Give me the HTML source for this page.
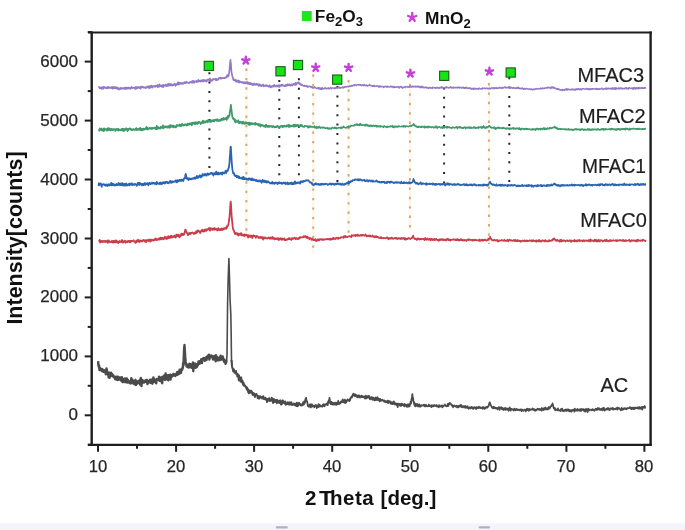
<!DOCTYPE html>
<html><head><meta charset="utf-8"><style>
html,body{margin:0;padding:0;background:#fff;}
body{width:685px;height:530px;position:relative;overflow:hidden;font-family:"Liberation Sans",sans-serif;color:#222;}
svg{position:absolute;left:0;top:0;}
#w{position:absolute;left:0;top:0;width:685px;height:530px;filter:blur(0.45px);}
.yl{position:absolute;left:20px;width:58px;text-align:right;font-size:16px;line-height:18px;transform:scaleX(1.06);transform-origin:right center;color:#262626;-webkit-text-stroke:0.25px #262626;}
.xl{position:absolute;top:457.6px;width:40px;text-align:center;font-size:16px;line-height:18px;transform:scaleX(1.04);color:#262626;-webkit-text-stroke:0.25px #262626;}
.cl{position:absolute;transform-origin:left center;font-size:20px;line-height:22px;color:#1e1e1e;-webkit-text-stroke:0.2px #1e1e1e;}
.leg{position:absolute;top:7px;font-size:16px;transform:scaleX(1.08);transform-origin:left top;font-weight:bold;line-height:20px;color:#111;}
.leg sub{font-size:12px;vertical-align:-4px;line-height:0;}
.xt{position:absolute;left:305px;top:487px;font-size:20.5px;font-weight:bold;line-height:22px;color:#111;white-space:nowrap;}
.yt{position:absolute;left:-84.7px;top:226.5px;width:200px;text-align:center;font-size:21.5px;font-weight:bold;line-height:22px;color:#111;transform:rotate(-90deg);white-space:nowrap;}
</style></head><body><div id="w">
<svg width="685" height="530" viewBox="0 0 685 530"><rect x="0" y="523.2" width="685" height="7" fill="#f5f4fa"/><rect x="275.8" y="526.2" width="12" height="2.2" rx="1" fill="#b0b0c8"/><rect x="478.6" y="526.2" width="11.5" height="2.2" rx="1" fill="#b0b0c8"/><line x1="246.4" y1="66.5" x2="246.4" y2="238" stroke="#fdf6ea" stroke-width="2.6"/><line x1="246.4" y1="68.5" x2="246.4" y2="238" stroke="#d6a56c" stroke-width="1.9" stroke-dasharray="2.4 7.00" stroke-linecap="butt"/><line x1="313.2" y1="72.4" x2="313.2" y2="254" stroke="#fdf6ea" stroke-width="2.6"/><line x1="313.2" y1="74.4" x2="313.2" y2="254" stroke="#d6a56c" stroke-width="1.9" stroke-dasharray="2.4 7.10" stroke-linecap="butt"/><line x1="348.6" y1="78" x2="348.6" y2="234" stroke="#fdf6ea" stroke-width="2.6"/><line x1="348.6" y1="80" x2="348.6" y2="234" stroke="#d6a56c" stroke-width="1.9" stroke-dasharray="2.4 7.00" stroke-linecap="butt"/><line x1="409.9" y1="82" x2="409.9" y2="229" stroke="#fdf6ea" stroke-width="2.6"/><line x1="409.9" y1="84" x2="409.9" y2="229" stroke="#d6a56c" stroke-width="1.9" stroke-dasharray="2.4 7.00" stroke-linecap="butt"/><line x1="488.9" y1="81" x2="488.9" y2="244" stroke="#fdf6ea" stroke-width="2.6"/><line x1="488.9" y1="83" x2="488.9" y2="244" stroke="#d6a56c" stroke-width="1.9" stroke-dasharray="2.4 7.00" stroke-linecap="butt"/><line x1="209.4" y1="72.2" x2="209.4" y2="168" stroke="#2a1f33" stroke-width="2" stroke-dasharray="2 7.38" stroke-linecap="butt"/><line x1="279.3" y1="80.0" x2="279.3" y2="176" stroke="#2a1f33" stroke-width="2" stroke-dasharray="2 7.32" stroke-linecap="butt"/><line x1="298.9" y1="78.3" x2="298.9" y2="176" stroke="#2a1f33" stroke-width="2" stroke-dasharray="2 7.50" stroke-linecap="butt"/><line x1="337.4" y1="86" x2="337.4" y2="183" stroke="#2a1f33" stroke-width="2" stroke-dasharray="2 7.40" stroke-linecap="butt"/><line x1="444.1" y1="87.4" x2="444.1" y2="184" stroke="#2a1f33" stroke-width="2" stroke-dasharray="2 7.40" stroke-linecap="butt"/><line x1="509.3" y1="77.2" x2="509.3" y2="185" stroke="#2a1f33" stroke-width="2" stroke-dasharray="2 7.35" stroke-linecap="butt"/><path d="M98.1 361.15 L98.4 365.06 L98.8 366.85 L99.1 365.38 L99.5 370.05 L99.8 369.52 L100.2 368.15 L100.5 370.14 L100.9 370.00 L101.2 370.09 L101.6 369.87 L101.9 370.90 L102.3 369.06 L102.6 370.18 L103.0 369.87 L103.3 371.81 L103.7 371.12 L104.0 370.79 L104.4 370.21 L104.7 371.26 L105.1 371.88 L105.4 371.64 L105.8 374.35 L106.1 374.10 L106.5 368.35 L106.8 369.87 L107.2 372.82 L107.5 372.63 L107.9 373.85 L108.2 374.06 L108.6 377.30 L108.9 372.34 L109.3 373.72 L109.6 377.80 L110.0 375.77 L110.3 376.00 L110.7 374.32 L111.0 372.71 L111.4 375.82 L111.7 375.93 L112.1 373.99 L112.4 375.07 L112.8 376.25 L113.1 375.06 L113.5 376.61 L113.8 377.13 L114.2 377.24 L114.5 376.57 L114.9 378.54 L115.2 379.22 L115.6 378.51 L115.9 376.79 L116.3 379.38 L116.6 377.51 L117.0 379.82 L117.3 376.80 L117.7 380.09 L118.0 378.69 L118.4 376.83 L118.7 378.43 L119.1 379.13 L119.4 379.58 L119.8 377.68 L120.1 377.58 L120.5 379.78 L120.8 378.81 L121.2 380.04 L121.5 380.98 L121.9 377.24 L122.2 380.38 L122.6 382.04 L122.9 379.71 L123.3 378.99 L123.6 381.60 L124.0 380.90 L124.3 382.04 L124.7 380.15 L125.0 378.43 L125.4 380.68 L125.7 380.20 L126.1 382.21 L126.4 381.33 L126.8 378.47 L127.1 379.22 L127.5 382.60 L127.8 382.33 L128.2 380.28 L128.5 381.35 L128.9 382.12 L129.2 382.22 L129.6 382.92 L129.9 381.99 L130.3 381.48 L130.6 381.27 L131.0 383.43 L131.3 378.20 L131.7 381.63 L132.0 381.96 L132.4 379.68 L132.7 382.55 L133.1 381.03 L133.4 383.51 L133.8 381.98 L134.1 383.31 L134.5 384.24 L134.8 382.89 L135.2 380.86 L135.5 379.82 L135.9 385.03 L136.2 382.02 L136.6 381.08 L136.9 382.39 L137.3 381.84 L137.6 383.49 L138.0 382.16 L138.3 382.11 L138.7 380.93 L139.0 382.80 L139.4 380.38 L139.7 383.08 L140.1 384.43 L140.4 379.54 L140.8 378.01 L141.1 382.93 L141.5 386.00 L141.8 380.30 L142.2 379.88 L142.5 382.81 L142.9 380.50 L143.2 381.02 L143.6 381.25 L143.9 382.64 L144.3 381.14 L144.6 382.22 L145.0 381.49 L145.3 380.42 L145.7 381.25 L146.0 380.24 L146.4 381.76 L146.7 379.95 L147.1 379.99 L147.4 384.06 L147.8 381.64 L148.1 381.63 L148.5 382.53 L148.8 381.04 L149.2 381.34 L149.5 382.38 L149.9 382.14 L150.2 379.77 L150.6 382.87 L150.9 380.51 L151.3 379.68 L151.6 379.84 L152.0 380.57 L152.3 383.71 L152.7 379.14 L153.0 381.19 L153.4 377.42 L153.7 380.75 L154.1 382.11 L154.4 380.20 L154.8 379.49 L155.1 380.78 L155.5 381.44 L155.8 381.30 L156.2 383.30 L156.5 380.40 L156.9 379.03 L157.2 379.68 L157.6 379.68 L157.9 379.89 L158.3 379.58 L158.6 379.82 L159.0 376.78 L159.3 380.69 L159.7 378.36 L160.0 377.31 L160.4 380.12 L160.7 381.12 L161.1 379.72 L161.4 379.10 L161.8 377.26 L162.1 383.26 L162.5 379.99 L162.8 376.67 L163.2 377.15 L163.5 378.45 L163.9 375.74 L164.2 378.41 L164.6 377.32 L164.9 379.93 L165.3 379.41 L165.6 373.45 L166.0 377.77 L166.3 375.02 L166.7 379.30 L167.0 377.70 L167.4 378.22 L167.7 375.55 L168.1 380.09 L168.4 380.31 L168.8 375.29 L169.1 377.50 L169.5 375.74 L169.8 376.69 L170.2 374.61 L170.5 379.53 L170.9 374.90 L171.2 375.89 L171.6 377.08 L171.9 375.15 L172.3 375.71 L172.6 375.10 L173.0 375.70 L173.3 373.94 L173.7 374.97 L174.0 375.19 L174.4 374.84 L174.7 375.31 L175.1 374.59 L175.4 376.11 L175.8 374.23 L176.1 374.37 L176.5 373.37 L176.8 373.43 L177.2 372.08 L177.5 374.77 L177.9 371.94 L178.2 372.40 L178.6 373.99 L178.9 373.87 L179.3 372.39 L179.6 369.59 L180.0 373.27 L180.3 372.77 L180.7 369.72 L181.0 372.78 L181.4 369.94 L181.7 368.70 L182.1 369.96 L182.4 368.63 L182.8 368.00 L183.1 363.19 L183.5 365.51 L183.8 356.30 L184.2 347.06 L184.5 346.49 L184.5 345.00 L184.9 351.53 L185.2 357.03 L185.6 361.39 L185.9 363.91 L186.3 363.56 L186.6 366.59 L187.0 365.20 L187.3 364.83 L187.7 366.51 L188.0 367.19 L188.4 366.15 L188.7 365.14 L189.1 367.50 L189.4 363.66 L189.8 364.77 L190.1 366.43 L190.5 364.12 L190.8 366.27 L191.2 366.15 L191.5 367.70 L191.9 364.82 L192.2 365.30 L192.6 366.85 L192.9 362.40 L193.3 371.31 L193.6 365.24 L194.0 365.20 L194.3 367.76 L194.7 366.32 L195.0 363.55 L195.4 367.40 L195.7 367.78 L196.1 365.69 L196.4 365.97 L196.8 367.05 L197.1 364.30 L197.5 365.94 L197.8 365.04 L198.2 363.13 L198.5 361.46 L198.9 362.81 L199.2 361.26 L199.6 363.74 L199.9 361.85 L200.3 362.44 L200.6 361.20 L201.0 361.19 L201.3 359.31 L201.7 361.42 L202.0 363.00 L202.4 359.44 L202.7 358.78 L203.1 359.26 L203.4 358.53 L203.8 357.97 L204.1 359.11 L204.5 358.21 L204.8 360.77 L205.2 358.25 L205.5 358.56 L205.9 359.36 L206.2 357.27 L206.6 360.01 L206.9 356.67 L207.3 356.35 L207.6 357.02 L208.0 357.39 L208.3 355.30 L208.7 357.45 L209.0 354.80 L209.4 359.66 L209.7 357.27 L210.1 356.34 L210.4 355.88 L210.8 356.68 L211.1 356.90 L211.5 355.55 L211.8 355.72 L212.2 357.00 L212.5 356.61 L212.9 359.08 L213.2 359.54 L213.6 357.88 L213.9 358.76 L214.3 356.00 L214.6 359.30 L215.0 358.37 L215.3 359.33 L215.7 361.25 L216.0 355.18 L216.4 359.39 L216.7 357.35 L217.1 360.20 L217.4 357.29 L217.8 358.66 L218.1 359.65 L218.5 360.18 L218.8 359.19 L219.2 357.68 L219.5 357.93 L219.9 360.11 L220.2 358.56 L220.6 355.75 L220.9 359.66 L221.3 358.85 L221.6 359.46 L222.0 357.40 L222.3 359.13 L222.7 356.53 L223.0 359.64 L223.4 358.45 L223.7 360.82 L224.1 361.86 L224.4 359.58 L224.8 361.19 L225.1 361.84 L225.5 363.89 L225.8 363.13 L226.2 360.04" fill="none" stroke="#4b4b4b" stroke-width="2.4" stroke-linejoin="round"/><path d="M225.8 363.13 L226.2 360.04 L226.5 362.72 L226.6 361.50 L227.0 355.00 L227.3 330.00 L227.6 303.00 L228.2 278.00 L228.9 258.50 L229.5 278.00 L230.1 300.00 L230.8 314.00 L231.2 335.00 L231.5 360.00 L232.0 366.00" fill="none" stroke="#4b4b4b" stroke-width="1.6" stroke-linejoin="round"/><path d="M231.5 360.00 L232.0 366.00 L232.1 366.67 L232.5 368.27 L232.8 368.90 L233.2 371.27 L233.5 370.91 L233.9 369.37 L234.2 372.04 L234.6 372.66 L234.9 371.81 L235.3 372.09 L235.6 372.67 L236.0 370.91 L236.3 374.23 L236.7 374.78 L237.0 373.64 L237.4 376.52 L237.7 373.87 L238.1 375.58 L238.4 376.18 L238.8 380.30 L239.1 375.52 L239.5 379.18 L239.8 380.20 L240.2 379.84 L240.5 381.47 L240.9 378.77 L241.2 377.39 L241.6 382.26 L241.9 379.90 L242.3 381.62 L242.6 380.86 L243.0 384.52 L243.3 384.71 L243.7 382.92 L244.0 385.69 L244.4 385.05 L244.7 385.15 L245.1 385.89 L245.4 385.99 L245.8 387.60 L246.1 387.64 L246.5 387.18 L246.8 389.53 L247.2 387.75 L247.5 389.46 L247.9 390.11 L248.2 392.03 L248.6 389.77 L248.9 393.31 L249.3 391.63 L249.6 391.31 L250.0 390.83 L250.3 392.72 L250.7 392.17 L251.0 390.79 L251.4 390.94 L251.7 391.89 L252.1 391.90 L252.4 394.43 L252.8 394.99 L253.1 394.49 L253.5 393.98 L253.8 393.12 L254.2 393.94 L254.5 395.20 L254.9 397.00 L255.2 395.58 L255.6 394.20 L255.9 394.79 L256.3 394.30 L256.6 394.09 L257.0 395.04 L257.3 395.70 L257.7 397.98 L258.0 395.87 L258.4 397.71 L258.7 398.40 L259.1 396.43 L259.4 398.54 L259.8 397.58 L260.1 396.34 L260.5 397.37 L260.8 397.24 L261.2 397.10 L261.5 397.32 L261.9 397.92 L262.2 398.39 L262.6 396.85 L262.9 398.01 L263.3 396.25 L263.6 398.51 L264.0 399.03 L264.3 398.56 L264.7 398.79 L265.0 399.24 L265.4 397.81 L265.7 398.41 L266.1 399.39 L266.4 400.06 L266.8 399.42 L267.1 402.05 L267.5 399.01 L267.8 400.38 L268.2 400.77 L268.5 399.21 L268.9 398.50 L269.2 398.16 L269.6 399.81 L269.9 400.99 L270.3 400.10 L270.6 400.07 L271.0 399.53 L271.3 400.68 L271.7 397.70 L272.0 400.48 L272.4 400.33 L272.7 398.84 L273.1 402.91 L273.4 399.00 L273.8 399.43 L274.1 399.38 L274.5 402.03 L274.8 399.90 L275.2 401.71 L275.5 401.70 L275.9 401.42 L276.2 399.80 L276.6 400.64 L276.9 403.20 L277.3 400.08 L277.6 400.66 L278.0 401.47 L278.3 402.58 L278.7 402.04 L279.0 402.61 L279.4 400.75 L279.7 402.93 L280.1 402.58 L280.4 400.37 L280.8 403.70 L281.1 404.54 L281.5 401.41 L281.8 402.32 L282.2 403.75 L282.5 400.85 L282.9 400.39 L283.2 401.15 L283.6 401.95 L283.9 402.00 L284.3 403.25 L284.6 402.96 L285.0 401.50 L285.3 403.37 L285.7 404.72 L286.0 404.10 L286.4 403.94 L286.7 403.04 L287.1 404.04 L287.4 402.18 L287.8 403.91 L288.1 403.15 L288.5 404.38 L288.8 403.79 L289.2 402.35 L289.5 403.57 L289.9 404.67 L290.2 402.49 L290.6 403.09 L290.9 402.94 L291.3 402.32 L291.6 404.67 L292.0 405.05 L292.3 404.62 L292.7 404.16 L293.0 403.94 L293.4 404.26 L293.7 403.43 L294.1 404.96 L294.4 405.13 L294.8 405.06 L295.1 403.77 L295.5 404.35 L295.8 404.17 L296.2 405.94 L296.5 404.54 L296.9 402.75 L297.2 404.79 L297.6 406.12 L297.9 405.10 L298.3 405.29 L298.6 404.59 L299.0 402.89 L299.3 403.06 L299.7 403.57 L300.0 404.55" fill="none" stroke="#4b4b4b" stroke-width="2.0" stroke-linejoin="round"/><path d="M299.7 403.57 L300.0 404.55 L300.4 404.94 L300.7 405.28 L301.1 404.41 L301.4 405.53 L301.8 404.48 L302.1 404.11 L302.5 405.41 L302.8 403.88 L303.2 402.27 L303.5 403.59 L303.9 404.42 L304.2 401.47 L304.6 403.37 L304.9 402.69 L305.3 400.58 L305.6 398.75 L306.0 398.08 L306.1 397.91 L306.3 400.09 L306.7 401.27 L307.0 401.22 L307.4 402.85 L307.7 404.80 L308.1 406.22 L308.4 405.21 L308.8 405.34 L309.1 406.81 L309.5 405.32 L309.8 405.18 L310.2 404.32 L310.5 405.13 L310.9 407.45 L311.2 404.41 L311.6 405.65 L311.9 404.46 L312.3 405.78 L312.6 406.44 L313.0 405.48 L313.3 406.32 L313.7 406.32 L314.0 406.09 L314.4 407.18 L314.7 406.38 L315.1 405.47 L315.4 405.15 L315.8 405.01 L316.1 406.14 L316.5 405.46 L316.8 408.06 L317.2 407.31 L317.5 405.56 L317.9 405.46 L318.2 407.18 L318.6 404.14 L318.9 405.36 L319.3 406.55 L319.6 404.96 L320.0 405.33 L320.3 405.44 L320.7 406.30 L321.0 405.85 L321.4 406.07 L321.7 406.23 L322.1 405.75 L322.4 406.66 L322.8 405.09 L323.1 404.46 L323.5 404.10 L323.8 404.16 L324.2 405.00 L324.5 406.27 L324.9 405.47 L325.2 404.73 L325.6 404.24 L325.9 404.61 L326.3 404.60 L326.6 404.34 L327.0 403.44 L327.3 404.05 L327.7 405.05 L328.0 401.94 L328.4 402.96 L328.7 400.37 L329.1 400.93 L329.4 399.11 L329.5 397.94 L329.8 400.37 L330.1 403.14 L330.5 402.69 L330.8 404.18 L331.2 403.47 L331.5 401.88 L331.9 404.23 L332.2 403.51 L332.6 402.65 L332.9 404.56 L333.3 404.12 L333.6 403.40 L334.0 404.56 L334.3 403.04 L334.7 404.29 L335.0 402.90 L335.4 404.10 L335.7 402.67 L336.1 404.82 L336.4 403.72 L336.8 404.67 L337.1 402.70 L337.5 402.94 L337.8 404.00 L338.2 400.90 L338.5 402.27 L338.9 404.00 L339.2 403.46 L339.6 403.84 L339.9 402.69 L340.3 403.38 L340.6 402.22 L341.0 401.62 L341.3 401.29 L341.7 402.20 L342.0 402.15 L342.4 402.02 L342.7 399.40 L343.1 400.57 L343.4 401.68 L343.8 402.24 L344.1 401.36 L344.5 400.96 L344.8 399.60 L345.2 403.14 L345.5 400.34 L345.9 402.57 L346.2 402.32 L346.6 401.08 L346.9 400.21 L347.3 400.67 L347.6 399.42 L348.0 400.48 L348.3 400.10 L348.7 400.39 L349.0 400.59 L349.4 401.08 L349.7 399.10 L350.1 400.13 L350.4 398.32 L350.8 397.76 L351.1 397.47 L351.5 396.57 L351.8 397.52 L352.2 396.64 L352.5 396.12 L352.8 394.62 L352.9 394.79 L353.2 394.04 L353.6 393.67 L353.9 395.46 L354.3 395.61 L354.6 394.66 L355.0 396.26 L355.3 394.40 L355.7 395.83 L356.0 395.52 L356.4 395.68 L356.7 395.27 L357.1 397.06 L357.4 396.78 L357.8 397.36 L358.1 396.51 L358.5 395.34 L358.8 396.17 L359.2 395.52 L359.5 396.96 L359.9 397.64 L360.2 396.93 L360.6 396.18 L360.9 396.41 L361.3 396.94 L361.6 395.58 L362.0 396.97 L362.3 397.05 L362.7 396.46 L363.0 396.61 L363.4 397.14 L363.7 396.34 L364.1 396.38 L364.4 397.77 L364.8 397.34 L365.1 398.63 L365.5 396.42 L365.8 395.81 L366.2 398.18 L366.5 398.26 L366.9 396.88 L367.2 396.32 L367.6 397.58 L367.9 396.20 L368.3 397.45 L368.6 395.95 L369.0 397.66 L369.3 396.12 L369.7 397.78 L370.0 399.33 L370.4 397.87 L370.7 398.82 L371.1 397.67 L371.4 397.52 L371.8 397.07 L372.1 399.28 L372.5 398.41 L372.8 399.90 L373.2 397.58 L373.5 398.45 L373.9 398.76 L374.2 399.96 L374.6 400.36 L374.9 398.32 L375.3 397.97 L375.6 397.52 L376.0 400.19 L376.3 399.04 L376.7 398.62 L377.0 399.19 L377.4 397.12 L377.7 397.89 L378.1 400.24 L378.4 399.87 L378.8 399.74 L379.1 398.85 L379.5 400.29 L379.8 401.39 L380.2 398.92 L380.5 400.06 L380.9 399.77 L381.2 400.53 L381.6 400.32 L381.9 400.27 L382.3 399.73 L382.6 400.55 L383.0 400.13 L383.3 400.62 L383.7 400.77 L384.0 401.47 L384.4 400.51 L384.7 400.81 L385.1 402.09 L385.4 401.08 L385.8 401.13 L386.1 402.17 L386.5 401.75 L386.8 401.69 L387.2 401.88 L387.5 400.73 L387.9 402.26 L388.2 403.08 L388.6 402.54 L388.9 400.81 L389.3 402.46 L389.6 401.54 L390.0 402.20 L390.3 402.59 L390.7 401.55 L391.0 403.77 L391.4 402.65 L391.7 403.45 L392.1 403.39 L392.4 404.06 L392.8 404.00 L393.1 401.81 L393.5 403.17 L393.8 401.39 L394.2 402.89 L394.5 403.95 L394.9 404.19 L395.2 404.58 L395.6 403.24 L395.9 403.90 L396.3 403.78 L396.6 404.85 L397.0 405.19 L397.3 403.60 L397.7 407.20 L398.0 404.05 L398.4 403.81 L398.7 404.70 L399.1 404.90 L399.4 404.79 L399.8 403.84 L400.1 405.72 L400.5 404.58 L400.8 405.91 L401.2 405.86 L401.5 403.66 L401.9 403.98 L402.2 404.03 L402.6 405.16 L402.9 405.06 L403.3 405.30 L403.6 404.41 L404.0 405.47 L404.3 406.30 L404.7 403.97 L405.0 404.94 L405.4 405.32 L405.7 404.99 L406.1 404.93 L406.4 406.59 L406.8 406.17 L407.1 405.78 L407.5 404.39 L407.8 406.91 L408.2 405.27 L408.5 404.42 L408.9 404.55 L409.2 404.31 L409.6 406.39 L409.9 404.55 L410.3 404.12 L410.6 401.76 L411.0 403.46 L411.3 400.67 L411.7 398.53 L412.0 397.16 L412.4 394.23 L412.4 395.67 L412.7 397.61 L413.1 398.02 L413.4 401.52 L413.8 401.58 L414.1 403.65 L414.5 404.97 L414.8 403.37 L415.2 406.29 L415.5 404.66 L415.9 404.04 L416.2 405.04 L416.6 405.90 L416.9 404.12 L417.3 405.34 L417.6 404.22 L418.0 406.45 L418.3 405.59 L418.7 405.13 L419.0 406.40 L419.4 404.45 L419.7 405.23 L420.1 406.79" fill="none" stroke="#4b4b4b" stroke-width="1.85" stroke-linejoin="round"/><path d="M419.7 405.23 L420.1 406.79 L420.4 405.53 L420.8 406.51 L421.1 405.77 L421.5 405.21 L421.8 405.52 L422.2 405.74 L422.5 405.44 L422.9 405.19 L423.2 405.22 L423.6 404.77 L423.9 405.81 L424.3 406.01 L424.6 406.24 L425.0 404.59 L425.3 406.29 L425.7 405.76 L426.0 404.85 L426.4 405.85 L426.7 406.32 L427.1 406.14 L427.4 406.27 L427.8 406.42 L428.1 406.39 L428.5 405.79 L428.8 404.47 L429.2 405.33 L429.5 406.06 L429.9 405.53 L430.2 406.29 L430.6 406.37 L430.9 405.88 L431.3 407.08 L431.6 405.23 L432.0 406.47 L432.3 405.56 L432.7 405.37 L433.0 406.26 L433.4 405.48 L433.7 406.44 L434.1 405.13 L434.4 405.92 L434.8 405.35 L435.1 405.75 L435.5 405.66 L435.8 405.18 L436.2 406.34 L436.5 405.11 L436.9 405.28 L437.2 406.50 L437.6 406.56 L437.9 406.37 L438.3 406.16 L438.6 407.42 L439.0 405.15 L439.3 405.46 L439.7 405.30 L440.0 406.53 L440.4 406.13 L440.7 406.67 L441.1 406.57 L441.4 405.79 L441.8 405.40 L442.1 405.29 L442.5 407.37 L442.8 406.55 L443.2 406.30 L443.5 405.69 L443.9 405.77 L444.2 405.67 L444.6 405.67 L444.9 404.31 L445.3 405.81 L445.6 405.58 L446.0 405.99 L446.3 405.90 L446.7 406.27 L447.0 405.64 L447.4 406.07 L447.7 403.75 L448.1 404.49 L448.4 406.03 L448.8 403.66 L449.1 403.72 L449.5 403.96 L449.6 402.91 L449.8 404.10 L450.2 403.21 L450.5 403.42 L450.9 404.19 L451.2 404.23 L451.6 405.47 L451.9 405.39 L452.3 405.89 L452.6 405.06 L453.0 407.43 L453.3 405.75 L453.7 405.81 L454.0 406.16 L454.4 405.72 L454.7 405.48 L455.1 405.97 L455.4 406.56 L455.8 406.44 L456.1 406.66 L456.5 405.73 L456.8 405.64 L457.2 407.49 L457.5 406.07 L457.9 406.58 L458.2 406.79 L458.6 407.28 L458.9 405.52 L459.3 406.12 L459.6 406.19 L460.0 406.32 L460.3 404.99 L460.7 406.54 L461.0 404.76 L461.4 406.87 L461.7 407.07 L462.1 407.15 L462.4 406.02 L462.8 407.46 L463.1 406.32 L463.5 406.12 L463.8 406.32 L464.2 406.45 L464.5 407.15 L464.9 407.61 L465.2 405.75 L465.6 406.80 L465.9 407.78 L466.3 407.37 L466.6 407.61 L467.0 406.34 L467.3 407.97 L467.7 406.38 L468.0 407.56 L468.4 408.36 L468.7 408.74 L469.1 407.89 L469.4 408.16 L469.8 407.24 L470.1 407.36 L470.5 408.47 L470.8 407.75 L471.2 407.70 L471.5 406.91 L471.9 407.96 L472.2 408.29 L472.6 407.35 L472.9 407.53 L473.3 408.89 L473.6 407.97 L474.0 407.66 L474.3 407.11 L474.7 407.44 L475.0 407.67 L475.4 408.72 L475.7 407.43 L476.1 408.99 L476.4 407.21 L476.8 407.58 L477.1 408.35 L477.5 407.64 L477.8 407.26 L478.2 407.70 L478.5 408.07 L478.9 406.66 L479.2 407.61 L479.6 407.69 L479.9 407.49 L480.3 408.23 L480.6 407.37 L481.0 407.50 L481.3 407.75 L481.7 408.19 L482.0 407.56 L482.4 408.68 L482.7 407.09 L483.1 408.51 L483.4 407.10 L483.8 407.53 L484.1 407.86 L484.5 408.93 L484.8 408.15 L485.2 407.28 L485.5 408.35 L485.9 407.32 L486.2 406.89 L486.6 407.62 L486.9 407.29 L487.3 407.71 L487.6 406.54 L488.0 406.86 L488.3 406.59 L488.7 405.68 L489.0 404.44 L489.4 402.65 L489.7 402.80 L489.8 402.28 L490.1 403.07 L490.4 403.88 L490.8 405.30 L491.1 405.42 L491.5 406.66 L491.8 407.45 L492.2 407.25 L492.5 407.92 L492.9 407.70 L493.2 408.48 L493.6 407.56 L493.9 406.69 L494.3 408.10 L494.6 407.77 L495.0 407.29 L495.3 408.40 L495.7 408.19 L496.0 408.35 L496.4 407.88 L496.7 408.26 L497.1 408.34 L497.4 409.36 L497.8 407.79 L498.1 408.27 L498.5 408.54 L498.8 407.22 L499.2 407.33 L499.5 409.81 L499.9 407.28 L500.2 408.83 L500.6 407.94 L500.9 408.03 L501.3 407.26 L501.6 407.99 L502.0 409.12 L502.3 407.74 L502.7 409.06 L503.0 408.90 L503.4 410.04 L503.7 408.45 L504.1 409.60 L504.4 409.39 L504.8 408.65 L505.1 407.79 L505.5 409.88 L505.8 408.04 L506.2 408.65 L506.5 409.56 L506.9 409.74 L507.2 408.49 L507.6 409.05 L507.9 408.93 L508.3 409.89 L508.6 410.78 L509.0 407.99 L509.3 409.80 L509.7 407.38 L510.0 409.27 L510.4 408.57 L510.7 410.61 L511.1 409.45 L511.4 408.90 L511.8 409.08 L512.1 409.06 L512.5 409.58 L512.8 409.38 L513.2 409.94 L513.5 410.54 L513.9 410.02 L514.2 408.80 L514.6 408.57 L514.9 409.16 L515.3 410.36 L515.6 409.49 L516.0 409.30 L516.3 409.85 L516.7 408.87 L517.0 409.08 L517.4 410.18 L517.7 409.68 L518.1 409.60 L518.4 410.13 L518.8 409.57 L519.1 409.54 L519.5 409.71 L519.8 410.43 L520.2 410.10 L520.5 409.29 L520.9 409.85 L521.2 410.45 L521.6 411.23 L521.9 409.26 L522.3 410.21 L522.6 409.81 L523.0 410.50 L523.3 410.24 L523.7 410.89 L524.0 410.25 L524.4 409.55 L524.7 409.54 L525.1 410.14 L525.4 410.11 L525.8 411.40 L526.1 410.92 L526.5 409.05 L526.8 410.03 L527.2 408.92 L527.5 408.69 L527.9 410.24 L528.2 410.10 L528.6 409.05 L528.9 410.78 L529.3 409.06 L529.6 408.92 L530.0 410.09 L530.3 409.79 L530.7 409.53 L531.0 409.57 L531.4 409.75 L531.7 409.49 L532.1 409.46 L532.4 408.32 L532.8 408.66 L533.1 409.92 L533.5 409.05 L533.8 409.84 L534.2 410.27 L534.5 409.22 L534.9 409.62 L535.2 410.77 L535.6 409.85 L535.9 410.58 L536.3 410.36 L536.6 409.84 L537.0 409.26 L537.3 408.76 L537.7 408.57 L538.0 409.59 L538.4 409.56 L538.7 409.12 L539.1 409.76 L539.4 408.80 L539.8 409.89 L540.1 409.17 L540.5 409.10 L540.8 409.10 L541.2 409.01 L541.5 410.66 L541.9 407.97 L542.2 409.10 L542.6 409.77 L542.9 409.41 L543.3 408.76 L543.6 410.09 L544.0 408.27 L544.3 408.12 L544.7 409.34 L545.0 408.01 L545.4 407.40 L545.7 409.50 L546.1 409.40 L546.4 409.34 L546.8 408.50 L547.1 408.87 L547.5 408.05 L547.8 409.70 L548.2 408.96 L548.5 408.78 L548.9 406.84 L549.2 408.41 L549.6 408.59 L549.9 408.10 L550.3 407.48 L550.6 406.60 L551.0 405.99 L551.3 406.18 L551.5 405.83 L551.7 405.42 L552.0 404.42 L552.4 405.17 L552.6 403.31 L552.7 404.28 L553.1 404.95 L553.4 407.12 L553.8 408.24 L554.1 408.74 L554.5 408.87 L554.8 407.82 L555.2 410.36 L555.5 409.56 L555.9 409.34 L556.2 409.58 L556.6 409.47 L556.9 410.09 L557.3 410.10 L557.6 409.72 L558.0 408.33 L558.3 410.02 L558.7 410.39 L559.0 410.45 L559.4 410.03 L559.7 410.45 L560.1 410.84 L560.4 409.88 L560.8 411.15 L561.1 408.94 L561.5 409.40 L561.8 409.64 L562.2 408.65 L562.5 409.60 L562.9 411.06 L563.2 411.06 L563.6 410.32 L563.9 411.38 L564.3 410.42 L564.6 409.94 L565.0 410.42 L565.3 410.18 L565.7 410.75 L566.0 409.29 L566.4 410.92 L566.7 409.97 L567.1 410.82 L567.4 409.26 L567.8 409.99 L568.1 410.31 L568.5 410.84 L568.8 409.46 L569.2 411.34 L569.5 410.57 L569.9 409.91 L570.2 411.04 L570.6 410.31 L570.9 410.99 L571.3 411.75 L571.6 410.73 L572.0 409.89 L572.3 409.95 L572.7 410.60 L573.0 410.41 L573.4 409.67 L573.7 409.78 L574.1 410.64 L574.4 411.73 L574.8 408.49 L575.1 410.67 L575.5 410.06 L575.8 410.70 L576.2 410.75 L576.5 410.22 L576.9 409.52 L577.2 409.26 L577.6 408.95 L577.9 410.96 L578.3 410.02 L578.6 409.80 L579.0 409.97 L579.3 409.28 L579.7 410.34 L580.0 410.99 L580.4 410.87 L580.7 409.11 L581.1 411.01 L581.4 409.62 L581.8 408.87 L582.1 409.31 L582.5 409.48 L582.8 410.10 L583.2 409.43 L583.5 409.11 L583.9 409.92 L584.2 411.33 L584.6 409.62 L584.9 410.36 L585.3 410.10 L585.6 411.76 L586.0 408.79 L586.3 410.72 L586.7 409.16 L587.0 409.59 L587.4 409.90 L587.7 412.02 L588.1 409.44 L588.4 408.69 L588.8 410.75 L589.1 409.35 L589.5 409.72 L589.8 409.85 L590.2 409.91 L590.5 409.73 L590.9 410.00 L591.2 410.06 L591.6 410.35 L591.9 409.50 L592.3 409.28 L592.6 409.06 L593.0 410.12 L593.3 409.69 L593.7 410.07 L594.0 410.05 L594.4 410.78 L594.7 409.80 L595.1 410.14 L595.4 408.86 L595.8 408.92 L596.1 409.41 L596.5 408.81 L596.8 410.03 L597.2 408.70 L597.5 409.60 L597.9 407.94 L598.2 408.81 L598.6 409.29 L598.9 409.33 L599.3 408.32 L599.6 409.54 L600.0 410.09 L600.3 409.86 L600.7 409.00 L601.0 409.03 L601.4 408.63 L601.7 409.79 L602.1 410.31 L602.4 409.01 L602.8 408.24 L603.1 409.46 L603.5 409.77 L603.8 407.53 L604.2 409.37 L604.5 410.68 L604.9 409.79 L605.2 409.60 L605.6 409.49 L605.9 409.90 L606.3 408.59 L606.6 408.63 L607.0 409.43 L607.3 408.71 L607.7 409.31 L608.0 407.88 L608.4 409.61 L608.7 409.65 L609.1 409.11 L609.4 409.18 L609.8 410.11 L610.1 408.34 L610.5 408.43 L610.8 408.30 L611.2 408.72 L611.5 408.33 L611.9 408.99 L612.2 408.53 L612.6 408.00 L612.9 407.92 L613.3 409.70 L613.6 408.85 L614.0 408.74 L614.3 408.89 L614.7 408.80 L615.0 409.33 L615.4 409.19 L615.7 408.43 L616.1 408.26 L616.4 408.08 L616.8 407.96 L617.1 409.67 L617.5 408.15 L617.8 407.42 L618.2 408.17 L618.5 408.19 L618.9 408.90 L619.2 408.09 L619.6 409.00 L619.9 408.89 L620.3 409.45 L620.6 410.02 L621.0 410.45 L621.3 409.46 L621.7 407.82 L622.0 408.29 L622.4 408.70 L622.7 409.87 L623.1 408.95 L623.4 409.28 L623.8 408.37 L624.1 408.85 L624.5 408.92 L624.8 408.15 L625.2 408.93 L625.5 409.11 L625.9 408.30 L626.2 409.05 L626.6 409.44 L626.9 408.40 L627.3 408.34 L627.6 408.13 L628.0 407.91 L628.3 408.40 L628.7 408.02 L629.0 408.07 L629.4 407.75 L629.7 407.24 L630.1 407.62 L630.4 408.43 L630.8 407.43 L631.1 407.76 L631.5 409.24 L631.8 408.89 L632.2 407.69 L632.5 408.52 L632.9 407.69 L633.2 409.16 L633.6 407.70 L633.9 408.12 L634.3 408.96 L634.6 407.50 L635.0 408.87 L635.3 407.48 L635.7 408.15 L636.0 407.79 L636.4 407.91 L636.7 408.06 L637.1 407.89 L637.4 407.27 L637.8 408.48 L638.1 408.37 L638.5 408.72 L638.8 408.77 L639.2 406.98 L639.5 408.68 L639.9 408.67 L640.2 407.47 L640.6 408.47 L640.9 408.74 L641.3 407.42 L641.6 406.86 L642.0 407.51 L642.3 409.54 L642.7 407.87 L643.0 406.91 L643.4 407.52 L643.7 407.02 L644.1 407.39 L644.4 407.70 L644.8 405.96 L645.1 407.85 L645.5 408.52" fill="none" stroke="#4b4b4b" stroke-width="1.7" stroke-linejoin="round"/><path d="M98.7 241.52 L99.0 241.06 L99.4 241.13 L99.7 239.82 L100.1 242.58 L100.4 242.15 L100.8 241.20 L101.1 241.92 L101.5 241.60 L101.8 241.06 L102.2 242.06 L102.5 241.22 L102.9 241.21 L103.2 240.91 L103.6 241.73 L103.9 241.37 L104.3 241.79 L104.6 241.04 L105.0 241.52 L105.3 240.86 L105.7 241.99 L106.0 241.57 L106.4 241.67 L106.7 241.72 L107.1 240.80 L107.4 241.97 L107.8 242.80 L108.1 240.40 L108.5 240.34 L108.8 240.49 L109.2 242.02 L109.5 241.56 L109.9 242.18 L110.2 241.95 L110.6 241.62 L110.9 241.67 L111.3 241.38 L111.6 242.05 L112.0 240.76 L112.3 241.22 L112.7 241.65 L113.0 242.67 L113.4 241.00 L113.7 240.80 L114.1 241.14 L114.4 242.14 L114.8 241.36 L115.1 242.37 L115.5 240.30 L115.8 242.25 L116.2 242.19 L116.5 240.60 L116.9 241.62 L117.2 242.32 L117.6 241.59 L117.9 242.18 L118.3 243.08 L118.6 241.71 L119.0 241.36 L119.3 241.04 L119.7 241.97 L120.0 241.42 L120.4 241.43 L120.7 241.48 L121.1 241.98 L121.4 240.86 L121.8 240.56 L122.1 239.98 L122.5 242.34 L122.8 241.61 L123.2 242.55 L123.5 241.56 L123.9 241.09 L124.2 241.89 L124.6 241.53 L124.9 240.77 L125.3 241.01 L125.6 242.73 L126.0 241.82 L126.3 241.86 L126.7 241.41 L127.0 241.15 L127.4 242.17 L127.7 241.50 L128.1 241.06 L128.4 241.45 L128.8 240.93 L129.1 241.62 L129.5 242.22 L129.8 240.92 L130.2 242.38 L130.5 241.00 L130.9 241.52 L131.2 240.86 L131.6 241.24 L131.9 241.40 L132.3 241.07 L132.6 240.87 L133.0 240.87 L133.3 240.76 L133.7 240.26 L134.0 241.09 L134.4 241.51 L134.7 241.82 L135.1 241.63 L135.4 242.79 L135.8 241.39 L136.1 240.87 L136.5 242.36 L136.8 240.45 L137.2 241.74 L137.5 240.47 L137.9 241.31 L138.2 239.78 L138.6 241.63 L138.9 240.92 L139.3 240.38 L139.6 242.08 L140.0 241.47 L140.3 240.99 L140.7 240.46 L141.0 240.90 L141.4 240.80 L141.7 241.36 L142.1 241.39 L142.4 240.42 L142.8 240.48 L143.1 240.48 L143.5 239.93 L143.8 240.40 L144.2 240.71 L144.5 241.20 L144.9 241.60 L145.2 240.19 L145.6 241.06 L145.9 240.40 L146.3 242.02 L146.6 240.62 L147.0 240.96 L147.3 240.01 L147.7 240.07 L148.0 240.72 L148.4 240.32 L148.7 240.78 L149.1 239.52 L149.4 240.95 L149.8 239.91 L150.1 241.60 L150.5 240.28 L150.8 241.16 L151.2 239.52 L151.5 240.69 L151.9 239.82 L152.2 240.03 L152.6 240.30 L152.9 240.01 L153.3 240.33 L153.6 240.58 L154.0 240.45 L154.3 239.91 L154.7 239.02 L155.0 239.32 L155.4 239.65 L155.7 238.33 L156.1 240.14 L156.4 239.43 L156.8 239.36 L157.1 240.08 L157.5 239.83 L157.8 239.48 L158.2 238.62 L158.5 239.41 L158.9 239.37 L159.2 238.50 L159.6 239.69 L159.9 239.28 L160.3 237.61 L160.6 238.90 L161.0 237.94 L161.3 239.44 L161.7 239.16 L162.0 237.85 L162.4 237.93 L162.7 238.51 L163.1 238.23 L163.4 239.31 L163.8 238.74 L164.1 238.01 L164.5 238.50 L164.8 236.74 L165.2 238.20 L165.5 238.50 L165.9 237.76 L166.2 237.35 L166.6 238.11 L166.9 238.96 L167.3 237.75 L167.6 236.83 L168.0 238.43 L168.3 236.21 L168.7 237.69 L169.0 236.92 L169.4 237.84 L169.7 236.62 L170.1 237.97 L170.4 237.24 L170.8 235.86 L171.1 235.63 L171.5 236.65 L171.8 237.63 L172.2 236.81 L172.5 236.70 L172.9 236.44 L173.2 237.01 L173.6 236.71 L173.9 236.59 L174.3 235.70 L174.6 237.05 L175.0 237.10 L175.3 235.30 L175.7 237.58 L176.0 236.48 L176.4 235.63 L176.7 234.65 L177.1 236.25 L177.4 236.14 L177.8 235.34 L178.1 234.51 L178.5 236.35 L178.8 235.18 L179.2 235.21 L179.5 237.31 L179.9 236.78 L180.2 235.96 L180.6 234.99 L180.9 235.64 L181.3 233.67 L181.6 235.15 L182.0 234.51 L182.3 234.08 L182.7 233.79 L183.0 235.03 L183.4 234.59 L183.7 234.42 L184.1 234.55 L184.4 232.95 L184.8 231.83 L185.1 230.06 L185.5 229.59 L185.6 230.18 L185.8 230.12 L186.2 232.14 L186.5 232.03 L186.9 233.08 L187.2 233.20 L187.6 233.06 L187.9 235.17 L188.3 234.56 L188.6 233.52 L189.0 233.52 L189.3 233.96 L189.7 233.00 L190.0 234.15 L190.4 232.96 L190.7 233.48 L191.1 232.98 L191.4 233.25 L191.8 232.62 L192.1 232.38 L192.5 232.69 L192.8 232.79 L193.2 232.96 L193.5 233.11 L193.9 233.97 L194.2 233.42 L194.6 232.64 L194.9 233.19 L195.3 232.18 L195.6 233.49 L196.0 232.81 L196.3 231.49 L196.7 232.77 L197.0 232.72 L197.4 230.36 L197.7 231.53 L198.1 231.62 L198.4 230.59 L198.8 231.06 L199.1 231.05 L199.5 231.91 L199.8 231.68 L200.2 233.11 L200.5 231.05 L200.9 231.97 L201.2 231.18 L201.6 231.22 L201.9 230.20 L202.3 229.62 L202.6 230.28 L203.0 231.18 L203.3 231.63 L203.7 230.90 L204.0 230.74 L204.4 229.78 L204.7 231.24 L205.1 231.02 L205.4 229.72 L205.8 229.94 L206.1 229.23 L206.5 230.74 L206.8 229.97 L207.2 229.55 L207.5 229.79 L207.9 229.72 L208.2 229.07 L208.6 228.44 L208.9 228.32 L209.3 227.99 L209.6 229.43 L210.0 230.58 L210.3 228.04 L210.7 229.24 L211.0 229.43 L211.4 228.53 L211.7 229.31 L212.1 228.47 L212.4 229.97 L212.8 228.81 L213.1 229.26 L213.5 229.65 L213.8 228.93 L214.2 228.05 L214.5 228.87 L214.9 229.72 L215.2 229.17 L215.6 229.38 L215.9 228.53 L216.3 229.33 L216.6 229.71 L217.0 229.26 L217.3 230.48 L217.7 229.10 L218.0 228.56 L218.4 228.18 L218.7 229.98 L219.1 229.19 L219.4 229.88 L219.8 229.51 L220.1 230.26 L220.5 230.02 L220.8 228.93 L221.2 229.34 L221.5 229.85 L221.9 228.32 L222.2 230.04 L222.6 229.85 L222.9 229.66 L223.3 228.85 L223.6 229.12 L224.0 228.14 L224.3 228.83 L224.7 228.32 L225.0 228.65 L225.4 228.15 L225.7 228.50 L226.1 228.88 L226.4 227.03 L226.8 228.20 L227.1 225.94 L227.5 225.35 L227.8 226.02 L228.2 225.20 L228.5 224.22 L228.9 221.03 L229.2 219.55 L229.6 216.03 L229.9 211.73 L230.3 205.29 L230.6 202.64 L230.7 201.64 L231.0 204.38 L231.3 209.98 L231.7 216.60 L232.0 220.07 L232.4 223.45 L232.7 226.70 L233.1 229.20 L233.4 229.60 L233.8 230.57 L234.1 230.99 L234.5 232.62 L234.8 232.88 L235.2 234.19 L235.5 233.53 L235.9 232.90 L236.2 233.32 L236.6 233.21 L236.9 233.17 L237.3 234.92 L237.6 234.73 L238.0 233.50 L238.3 235.55 L238.7 234.63 L239.0 233.92 L239.4 234.86 L239.7 234.63 L240.1 234.24 L240.4 233.53 L240.8 234.88 L241.1 235.10 L241.5 233.28 L241.8 235.37 L242.2 235.46 L242.5 234.79 L242.9 235.22 L243.2 235.01 L243.6 234.69 L243.9 235.04 L244.3 236.19 L244.6 234.41 L245.0 235.55 L245.3 235.55 L245.7 235.01 L246.0 235.22 L246.4 234.64 L246.7 235.03 L247.1 235.63 L247.4 235.87 L247.8 235.11 L248.1 237.71 L248.5 235.39 L248.8 235.88 L249.2 235.71 L249.5 235.66 L249.9 236.82 L250.2 235.72 L250.6 236.96 L250.9 236.89 L251.3 235.53 L251.6 236.93 L252.0 235.90 L252.3 238.14 L252.7 236.19 L253.0 235.89 L253.4 235.32 L253.7 235.78 L254.1 236.29 L254.4 236.08 L254.8 235.99 L255.1 236.39 L255.5 236.76 L255.8 237.87 L256.2 235.92 L256.5 236.71 L256.9 236.51 L257.2 236.21 L257.6 236.43 L257.9 236.71 L258.3 237.79 L258.6 237.25 L259.0 237.06 L259.3 237.81 L259.7 237.63 L260.0 237.34 L260.4 237.75 L260.7 237.02 L261.1 237.96 L261.4 237.88 L261.8 237.37 L262.1 236.89 L262.5 238.62 L262.8 237.76 L263.2 239.61 L263.5 237.36 L263.9 238.31 L264.2 237.55 L264.6 238.00 L264.9 238.38 L265.3 237.41 L265.6 237.86 L266.0 238.05 L266.3 238.05 L266.7 238.37 L267.0 238.65 L267.4 238.56 L267.7 238.24 L268.1 237.90 L268.4 237.46 L268.8 237.72 L269.1 237.88 L269.5 238.63 L269.8 238.03 L270.2 237.53 L270.5 238.68 L270.9 237.85 L271.2 237.90 L271.6 238.25 L271.9 238.69 L272.3 237.00 L272.6 237.80 L273.0 238.59 L273.3 238.30 L273.7 238.03 L274.0 238.25 L274.4 239.41 L274.7 238.36 L275.1 239.07 L275.4 239.14 L275.8 238.44 L276.1 238.99 L276.5 238.50 L276.8 238.43 L277.2 238.16 L277.5 239.35 L277.9 238.64 L278.2 238.57 L278.6 238.27 L278.9 239.99 L279.3 239.40 L279.6 238.93 L280.0 238.63 L280.3 238.18 L280.7 239.25 L281.0 239.27 L281.4 238.33 L281.7 239.83 L282.1 239.63 L282.4 238.67 L282.8 238.93 L283.1 239.03 L283.5 239.39 L283.8 239.24 L284.2 238.43 L284.5 240.21 L284.9 239.58 L285.2 240.14 L285.6 240.16 L285.9 239.37 L286.3 239.65 L286.6 239.83 L287.0 239.81 L287.3 239.25 L287.7 238.96 L288.0 239.29 L288.4 238.79 L288.7 238.89 L289.1 238.04 L289.4 239.17 L289.8 238.52 L290.1 238.74 L290.5 238.98 L290.8 239.14 L291.2 239.97 L291.5 239.01 L291.9 238.09 L292.2 238.89 L292.6 238.46 L292.9 238.96 L293.3 238.34 L293.6 238.29 L294.0 238.36 L294.3 238.26 L294.7 237.58 L295.0 238.16 L295.4 238.48 L295.7 239.09 L296.1 238.25 L296.4 238.17 L296.8 238.64 L297.1 238.58 L297.5 239.11 L297.8 238.53 L298.2 238.17 L298.5 238.85 L298.9 238.92 L299.2 237.82 L299.6 238.12 L299.9 237.12 L300.3 237.70" fill="none" stroke="#cc3d4c" stroke-width="1.8" stroke-linejoin="round"/><path d="M299.9 237.12 L300.3 237.70 L300.6 237.31 L301.0 237.54 L301.3 237.28 L301.7 237.33 L302.0 237.24 L302.4 237.43 L302.7 237.17 L303.1 236.65 L303.4 236.15 L303.8 237.33 L304.1 237.31 L304.5 236.29 L304.8 236.91 L305.2 235.93 L305.5 236.01 L305.9 236.77 L306.2 237.76 L306.6 236.57 L306.9 236.78 L307.3 238.11 L307.6 236.44 L308.0 237.82 L308.3 237.90 L308.7 237.71 L309.0 238.08 L309.4 239.46 L309.7 237.74 L310.1 238.31 L310.4 238.51 L310.8 238.45 L311.1 238.29 L311.5 239.91 L311.8 239.39 L312.2 238.57 L312.5 239.26 L312.9 239.97 L313.2 240.13 L313.6 239.39 L313.9 240.03 L314.3 240.18 L314.6 240.22 L315.0 240.20 L315.3 239.09 L315.7 240.85 L316.0 240.04 L316.4 240.79 L316.7 241.27 L317.1 239.79 L317.4 239.25 L317.8 240.24 L318.1 239.71 L318.5 239.56 L318.8 239.26 L319.2 240.53 L319.5 239.50 L319.9 239.02 L320.2 239.45 L320.6 239.09 L320.9 239.69 L321.3 239.40 L321.6 239.07 L322.0 239.83 L322.3 239.22 L322.7 239.84 L323.0 240.07 L323.4 239.29 L323.7 239.13 L324.1 239.50 L324.4 239.80 L324.8 239.36 L325.1 239.41 L325.5 239.31 L325.8 239.44 L326.2 239.56 L326.5 238.93 L326.9 239.01 L327.2 239.23 L327.6 238.88 L327.9 239.22 L328.3 239.38 L328.6 239.10 L329.0 238.82 L329.3 238.72 L329.7 239.84 L330.0 239.42 L330.4 238.50 L330.7 238.60 L331.1 239.80 L331.4 239.61 L331.8 238.97 L332.1 239.40 L332.5 238.15 L332.8 238.77 L333.2 239.05 L333.5 237.83 L333.9 238.27 L334.2 238.92 L334.6 239.03 L334.9 238.20 L335.3 238.54 L335.6 239.08 L336.0 238.14 L336.3 237.66 L336.7 238.18 L337.0 237.98 L337.4 238.69 L337.7 238.13 L338.1 237.64 L338.4 239.03 L338.8 237.68 L339.1 238.06 L339.5 238.10 L339.8 238.10 L340.2 237.78 L340.5 237.91 L340.9 237.57 L341.2 236.91 L341.6 237.39 L341.9 237.35 L342.3 237.31 L342.6 237.40 L343.0 237.01 L343.3 237.83 L343.7 237.89 L344.0 236.15 L344.4 237.09 L344.7 236.71 L345.1 235.81 L345.4 237.12 L345.8 236.60 L346.1 236.66 L346.5 236.49 L346.8 237.22 L347.2 237.24 L347.5 236.76 L347.9 236.89 L348.2 236.48 L348.6 236.55 L348.9 236.10 L349.3 236.40 L349.6 236.01 L350.0 236.45 L350.3 236.60 L350.7 236.32 L351.0 236.67 L351.4 237.29 L351.7 235.08 L352.1 235.99 L352.4 235.70 L352.8 235.72 L353.1 235.28 L353.5 235.88 L353.8 235.71 L354.2 235.50 L354.5 235.64 L354.9 235.46 L355.2 234.64 L355.6 236.14 L355.9 235.49 L356.3 235.16 L356.6 235.70 L357.0 235.23 L357.3 234.51 L357.7 235.86 L358.0 234.67 L358.4 235.29 L358.7 235.41 L359.1 235.93 L359.4 235.83 L359.8 235.34 L360.1 234.88 L360.5 235.01 L360.8 235.65 L361.2 235.93 L361.5 235.34 L361.9 234.77 L362.2 235.49 L362.6 234.83 L362.9 234.86 L363.3 234.97 L363.6 235.41 L364.0 235.31 L364.3 235.69 L364.7 235.87 L365.0 235.57 L365.4 234.33 L365.7 234.67 L366.1 235.55 L366.4 235.50 L366.8 236.55 L367.1 235.61 L367.5 235.61 L367.8 236.15 L368.2 236.25 L368.5 235.71 L368.9 236.08 L369.2 235.41 L369.6 235.54 L369.9 236.57 L370.3 235.43 L370.6 236.53 L371.0 236.46 L371.3 236.55 L371.7 236.67 L372.0 236.56 L372.4 235.40 L372.7 235.97 L373.1 236.22 L373.4 236.96 L373.8 236.10 L374.1 236.35 L374.5 236.56 L374.8 237.38 L375.2 236.20 L375.5 236.30 L375.9 237.25 L376.2 236.07 L376.6 237.24 L376.9 236.94 L377.3 236.50 L377.6 237.08 L378.0 236.88 L378.3 237.46 L378.7 237.61 L379.0 238.18 L379.4 237.56 L379.7 237.68 L380.1 237.43 L380.4 237.74 L380.8 238.28 L381.1 237.00 L381.5 238.20 L381.8 237.67 L382.2 237.96 L382.5 238.08 L382.9 238.33 L383.2 238.07 L383.6 237.80 L383.9 238.12 L384.3 238.00 L384.6 237.92 L385.0 238.11 L385.3 238.42 L385.7 238.10 L386.0 238.12 L386.4 237.49 L386.7 238.02 L387.1 237.25 L387.4 238.42 L387.8 237.69 L388.1 238.71 L388.5 239.48 L388.8 237.97 L389.2 238.76 L389.5 238.35 L389.9 237.93 L390.2 237.81 L390.6 238.46 L390.9 238.84 L391.3 238.39 L391.6 237.56 L392.0 237.78 L392.3 238.16 L392.7 238.89 L393.0 238.41 L393.4 238.44 L393.7 238.85 L394.1 238.22 L394.4 238.29 L394.8 238.25 L395.1 237.55 L395.5 238.57 L395.8 238.55 L396.2 238.81 L396.5 237.85 L396.9 238.03 L397.2 238.82 L397.6 238.56 L397.9 239.04 L398.3 238.04 L398.6 238.53 L399.0 238.15 L399.3 238.60 L399.7 238.25 L400.0 238.72 L400.4 238.98 L400.7 238.80 L401.1 237.70 L401.4 238.94 L401.8 238.73 L402.1 238.07 L402.5 238.15 L402.8 238.56 L403.2 238.82 L403.5 238.37 L403.9 237.85 L404.2 238.72 L404.6 238.67 L404.9 239.70 L405.3 238.03 L405.6 239.76 L406.0 239.41 L406.3 238.77 L406.7 239.39 L407.0 238.69 L407.4 239.09 L407.7 238.33 L408.1 238.69 L408.4 238.20 L408.8 237.95 L409.1 238.53 L409.5 238.35 L409.8 238.89 L410.2 239.18 L410.5 238.50 L410.9 238.55 L411.2 238.53 L411.6 237.56 L411.9 238.22 L412.3 237.74 L412.6 237.13 L413.0 236.01 L413.2 235.47 L413.3 236.34 L413.7 237.22 L414.0 238.32 L414.4 238.64 L414.7 239.04 L415.1 238.71 L415.4 239.17 L415.8 238.63 L416.1 239.06 L416.5 239.24 L416.8 240.06 L417.2 238.99 L417.5 238.33 L417.9 239.55 L418.2 238.59 L418.6 238.94 L418.9 238.85 L419.3 238.59 L419.6 239.61 L420.0 239.29 L420.3 238.76 L420.7 239.08 L421.0 238.87 L421.4 239.35 L421.7 238.91 L422.1 238.75 L422.4 238.82 L422.8 238.92 L423.1 239.26 L423.5 238.73 L423.8 239.11 L424.2 239.36 L424.5 240.23 L424.9 239.57 L425.2 237.85 L425.6 238.98 L425.9 239.04 L426.3 239.37 L426.6 239.94 L427.0 239.58 L427.3 238.22 L427.7 239.41 L428.0 239.33 L428.4 239.47 L428.7 239.91 L429.1 238.82 L429.4 239.82 L429.8 238.58 L430.1 239.36 L430.5 239.52 L430.8 240.39 L431.2 239.05 L431.5 238.62 L431.9 239.70 L432.2 239.10 L432.6 240.11 L432.9 239.10 L433.3 239.04 L433.6 240.00 L434.0 239.49 L434.3 239.91 L434.7 238.83 L435.0 240.22 L435.4 239.23 L435.7 239.87 L436.1 239.06 L436.4 238.82 L436.8 239.42 L437.1 239.62 L437.5 240.26 L437.8 239.72 L438.2 239.89 L438.5 239.88 L438.9 240.99 L439.2 239.23 L439.6 240.18 L439.9 239.55 L440.3 239.75 L440.6 239.39 L441.0 240.17 L441.3 239.10 L441.7 239.08 L442.0 239.59 L442.4 239.17 L442.7 240.01 L443.1 240.12 L443.4 239.37 L443.8 240.07 L444.1 239.42 L444.5 239.70 L444.8 239.73 L445.2 240.58 L445.5 239.74 L445.9 239.34 L446.2 239.34 L446.6 240.30 L446.9 239.01 L447.3 239.55 L447.6 239.60 L448.0 238.67 L448.3 239.57 L448.7 240.24 L449.0 239.90 L449.4 239.39 L449.7 240.11 L450.1 240.04 L450.4 240.72 L450.8 239.48 L451.1 239.65 L451.5 239.85 L451.8 239.77 L452.2 239.88 L452.5 239.80 L452.9 239.54 L453.2 239.13 L453.6 239.61 L453.9 239.24 L454.3 239.40 L454.6 239.63 L455.0 240.11 L455.3 240.27 L455.7 239.42 L456.0 240.03 L456.4 240.26 L456.7 239.88 L457.1 239.17 L457.4 238.94 L457.8 240.27 L458.1 240.33 L458.5 240.05 L458.8 239.45 L459.2 240.59 L459.5 240.48 L459.9 239.92 L460.2 239.85 L460.6 239.07 L460.9 240.30 L461.3 239.24 L461.6 240.27 L462.0 240.30 L462.3 240.02 L462.7 240.69 L463.0 239.84 L463.4 240.26 L463.7 240.36 L464.1 240.12 L464.4 239.82 L464.8 240.57 L465.1 240.21 L465.5 239.94 L465.8 239.95 L466.2 240.09 L466.5 241.07 L466.9 240.09 L467.2 239.94 L467.6 239.58 L467.9 239.51 L468.3 239.21 L468.6 240.18 L469.0 240.09 L469.3 239.62 L469.7 239.42 L470.0 239.94 L470.4 239.86 L470.7 239.50 L471.1 240.24 L471.4 240.17 L471.8 240.09 L472.1 240.47 L472.5 239.83 L472.8 240.74 L473.2 239.68 L473.5 240.37 L473.9 240.43 L474.2 240.03 L474.6 240.31 L474.9 239.58 L475.3 239.49 L475.6 240.08 L476.0 239.84 L476.3 240.44 L476.7 240.19 L477.0 240.46 L477.4 240.33 L477.7 240.29 L478.1 240.24 L478.4 240.04 L478.8 240.00 L479.1 241.13 L479.5 239.42 L479.8 240.14 L480.2 240.68 L480.5 240.42 L480.9 240.86 L481.2 240.48 L481.6 239.67 L481.9 240.09 L482.3 239.61 L482.6 240.69 L483.0 240.90 L483.3 240.05 L483.7 240.49 L484.0 240.06 L484.4 239.60 L484.7 240.04 L485.1 239.53 L485.4 239.98 L485.8 240.32 L486.1 240.54 L486.5 240.77 L486.8 240.02 L487.2 240.24 L487.5 240.27 L487.9 240.25 L488.2 238.60 L488.6 239.35 L488.9 239.75 L489.3 238.37 L489.6 238.21 L490.0 237.80 L490.1 236.53 L490.3 237.57 L490.7 238.58 L491.0 239.16 L491.4 238.89 L491.7 239.99 L492.1 239.74 L492.4 240.47 L492.8 240.37 L493.1 239.98 L493.5 240.35 L493.8 239.99 L494.2 240.01 L494.5 239.64 L494.9 240.26 L495.2 240.74 L495.6 240.44 L495.9 240.39 L496.3 240.13 L496.6 240.19 L497.0 240.77 L497.3 239.77 L497.7 241.37 L498.0 240.42 L498.4 241.44 L498.7 241.00 L499.1 240.29 L499.4 240.81 L499.8 240.60 L500.1 240.70 L500.5 240.85 L500.8 240.26 L501.2 240.23 L501.5 240.32 L501.9 239.90 L502.2 240.41 L502.6 240.63 L502.9 240.65 L503.3 240.63 L503.6 240.37 L504.0 240.90 L504.3 239.63 L504.7 240.38 L505.0 240.41 L505.4 240.97 L505.7 240.87 L506.1 240.94 L506.4 240.59 L506.8 241.01 L507.1 240.14 L507.5 240.63 L507.8 239.65 L508.2 241.37 L508.5 241.32 L508.9 240.34 L509.2 240.23 L509.6 239.68 L509.9 239.94 L510.3 240.69 L510.6 240.57 L511.0 239.98 L511.3 240.42 L511.7 240.35 L512.0 240.87 L512.4 240.98 L512.7 240.57 L513.1 240.73 L513.4 240.68 L513.8 239.75 L514.1 240.77 L514.5 240.67 L514.8 241.04 L515.2 239.88 L515.5 241.06 L515.9 240.43 L516.2 240.84 L516.6 241.27 L516.9 240.07 L517.3 240.15 L517.6 241.19 L518.0 240.24 L518.3 240.32 L518.7 241.03 L519.0 240.68 L519.4 241.12 L519.7 240.91 L520.1 240.77 L520.4 241.23 L520.8 241.78 L521.1 240.75 L521.5 241.47 L521.8 241.32 L522.2 240.87 L522.5 241.03 L522.9 240.40 L523.2 240.55 L523.6 240.96 L523.9 240.82 L524.3 241.43 L524.6 240.27 L525.0 240.73 L525.3 240.58 L525.7 240.80 L526.0 241.40 L526.4 240.34 L526.7 241.27 L527.1 240.62 L527.4 240.75 L527.8 241.35 L528.1 240.78 L528.5 241.21 L528.8 240.97 L529.2 240.84 L529.5 240.76 L529.9 240.15 L530.2 240.60 L530.6 241.01 L530.9 241.02 L531.3 240.26 L531.6 241.38 L532.0 241.18 L532.3 240.34 L532.7 240.45 L533.0 241.15 L533.4 240.13 L533.7 240.58 L534.1 240.89 L534.4 240.86 L534.8 240.89 L535.1 241.09 L535.5 240.55 L535.8 240.69 L536.2 241.83 L536.5 240.27 L536.9 240.70 L537.2 240.95 L537.6 240.61 L537.9 241.45 L538.3 240.93 L538.6 241.24 L539.0 239.72 L539.3 241.43 L539.7 241.41 L540.0 240.55 L540.4 241.47 L540.7 241.00 L541.1 241.30 L541.4 241.69 L541.8 240.92 L542.1 240.42 L542.5 240.87 L542.8 240.29 L543.2 240.50 L543.5 240.52 L543.9 240.54 L544.2 241.38 L544.6 241.23 L544.9 240.44 L545.3 241.35 L545.6 240.08 L546.0 240.53 L546.3 240.76 L546.7 241.35 L547.0 241.14 L547.4 241.00 L547.7 241.38 L548.1 241.10 L548.4 241.38 L548.8 240.39 L549.1 239.97 L549.5 240.51 L549.8 241.05 L550.2 240.76 L550.5 240.99 L550.9 240.86 L551.2 240.70 L551.6 240.74 L551.9 239.92 L552.3 240.58 L552.6 239.42 L553.0 239.57 L553.3 238.72 L553.7 239.36 L554.0 238.37 L554.0 239.70 L554.4 238.58 L554.7 239.54 L555.1 239.63 L555.4 239.53 L555.8 240.68 L556.1 240.08 L556.5 241.04 L556.8 240.00 L557.2 240.17 L557.5 239.68 L557.9 240.87 L558.2 241.06 L558.6 240.78 L558.9 240.62 L559.3 240.30 L559.6 241.78 L560.0 241.07 L560.3 239.91 L560.7 240.61 L561.0 239.58 L561.4 241.48 L561.7 241.66 L562.1 241.43 L562.4 240.75 L562.8 240.51 L563.1 240.15 L563.5 241.02 L563.8 240.45 L564.2 240.62 L564.5 240.50 L564.9 240.65 L565.2 241.19 L565.6 241.55 L565.9 240.86 L566.3 240.80 L566.6 240.29 L567.0 240.24 L567.3 240.31 L567.7 241.19 L568.0 240.90 L568.4 241.23 L568.7 240.98 L569.1 240.61 L569.4 240.23 L569.8 240.62 L570.1 240.14 L570.5 241.69 L570.8 240.91 L571.2 240.62 L571.5 241.69 L571.9 240.61 L572.2 241.03 L572.6 240.71 L572.9 240.94 L573.3 240.61 L573.6 241.00 L574.0 241.42 L574.3 240.21 L574.7 239.77 L575.0 241.39 L575.4 240.85 L575.7 241.17 L576.1 240.64 L576.4 241.47 L576.8 241.60 L577.1 240.24 L577.5 241.07 L577.8 240.49 L578.2 240.03 L578.5 240.62 L578.9 241.02 L579.2 240.14 L579.6 240.17 L579.9 241.31 L580.3 240.76 L580.6 240.93 L581.0 240.23 L581.3 240.45 L581.7 240.80 L582.0 240.82 L582.4 240.80 L582.7 241.46 L583.1 240.81 L583.4 240.03 L583.8 240.33 L584.1 240.69 L584.5 241.30 L584.8 240.40 L585.2 240.53 L585.5 240.70 L585.9 240.39 L586.2 240.33 L586.6 240.59 L586.9 241.15 L587.3 240.92 L587.6 240.56 L588.0 240.88 L588.3 240.11 L588.7 241.14 L589.0 241.02 L589.4 240.82 L589.7 239.94 L590.1 241.61 L590.4 239.35 L590.8 240.22 L591.1 240.26 L591.5 240.99 L591.8 239.99 L592.2 240.78 L592.5 240.60 L592.9 240.54 L593.2 241.06 L593.6 241.31 L593.9 240.84 L594.3 240.54 L594.6 239.62 L595.0 241.33 L595.3 240.52 L595.7 239.81 L596.0 240.73 L596.4 241.31 L596.7 240.59 L597.1 240.12 L597.4 241.68 L597.8 240.93 L598.1 240.81 L598.5 241.11 L598.8 239.66 L599.2 240.62 L599.5 240.57 L599.9 241.68 L600.2 240.39 L600.6 240.39 L600.9 240.01 L601.3 240.27 L601.6 240.55 L602.0 240.76 L602.3 240.55 L602.7 241.55 L603.0 240.86 L603.4 240.93 L603.7 241.26 L604.1 240.92 L604.4 240.39 L604.8 239.93 L605.1 240.79 L605.5 240.25 L605.8 241.23 L606.2 240.28 L606.5 239.61 L606.9 240.64 L607.2 241.11 L607.6 240.53 L607.9 240.70 L608.3 240.69 L608.6 241.40 L609.0 240.75 L609.3 240.59 L609.7 240.33 L610.0 239.86 L610.4 241.25 L610.7 241.13 L611.1 240.17 L611.4 240.88 L611.8 240.75 L612.1 240.43 L612.5 240.45 L612.8 240.94 L613.2 240.04 L613.5 240.35 L613.9 240.56 L614.2 240.59 L614.6 240.49 L614.9 240.69 L615.3 240.83 L615.6 240.18 L616.0 240.62 L616.3 240.34 L616.7 241.27 L617.0 239.94 L617.4 240.47 L617.7 240.89 L618.1 240.44 L618.4 240.42 L618.8 240.33 L619.1 240.71 L619.5 240.04 L619.8 240.53 L620.2 240.52 L620.5 239.90 L620.9 240.69 L621.2 240.35 L621.6 240.70 L621.9 240.96 L622.3 240.72 L622.6 240.02 L623.0 240.71 L623.3 239.83 L623.7 240.21 L624.0 241.32 L624.4 240.56 L624.7 241.27 L625.1 240.47 L625.4 240.56 L625.8 240.05 L626.1 240.98 L626.5 240.46 L626.8 240.84 L627.2 240.75 L627.5 240.79 L627.9 240.70 L628.2 240.53 L628.6 240.55 L628.9 240.23 L629.3 239.58 L629.6 240.77 L630.0 241.50 L630.3 241.04 L630.7 241.61 L631.0 240.77 L631.4 240.11 L631.7 240.10 L632.1 240.89 L632.4 240.70 L632.8 240.47 L633.1 240.89 L633.5 240.15 L633.8 240.78 L634.2 240.42 L634.5 240.62 L634.9 241.08 L635.2 240.48 L635.6 241.17 L635.9 241.15 L636.3 240.19 L636.6 241.60 L637.0 239.97 L637.3 240.49 L637.7 240.87 L638.0 239.50 L638.4 241.01 L638.7 241.05 L639.1 240.48 L639.4 240.66 L639.8 240.63 L640.1 240.43 L640.5 241.02 L640.8 240.36 L641.2 240.50 L641.5 240.69 L641.9 240.91 L642.2 241.02 L642.6 239.84 L642.9 239.59 L643.3 240.45 L643.6 240.49 L644.0 240.02 L644.3 240.65 L644.7 240.80 L645.0 240.68 L645.4 241.26 L645.7 240.03" fill="none" stroke="#cc3d4c" stroke-width="1.6" stroke-linejoin="round"/><path d="M98.6 186.12 L98.9 183.13 L99.3 185.06 L99.6 184.42 L100.0 184.49 L100.3 184.65 L100.7 183.47 L101.0 184.63 L101.4 184.22 L101.7 186.94 L102.1 184.92 L102.4 184.54 L102.8 184.59 L103.1 184.33 L103.5 184.08 L103.8 184.51 L104.2 185.07 L104.5 184.60 L104.9 185.38 L105.2 184.62 L105.6 184.76 L105.9 185.75 L106.3 185.10 L106.6 184.41 L107.0 184.62 L107.3 185.09 L107.7 185.99 L108.0 184.56 L108.4 184.57 L108.7 185.38 L109.1 184.15 L109.4 184.53 L109.8 185.29 L110.1 185.09 L110.5 184.77 L110.8 185.15 L111.2 182.87 L111.5 185.37 L111.9 184.08 L112.2 183.62 L112.6 184.88 L112.9 185.15 L113.3 184.40 L113.6 183.99 L114.0 184.71 L114.3 184.65 L114.7 185.60 L115.0 185.17 L115.4 184.80 L115.7 185.40 L116.1 184.54 L116.4 184.07 L116.8 185.05 L117.1 185.04 L117.5 184.52 L117.8 184.15 L118.2 184.81 L118.5 183.03 L118.9 185.10 L119.2 184.97 L119.6 183.58 L119.9 184.69 L120.3 184.02 L120.6 185.13 L121.0 183.32 L121.3 184.04 L121.7 185.09 L122.0 185.38 L122.4 183.23 L122.7 184.30 L123.1 184.84 L123.4 184.22 L123.8 185.65 L124.1 183.84 L124.5 184.84 L124.8 183.93 L125.2 185.52 L125.5 184.59 L125.9 184.36 L126.2 183.48 L126.6 185.69 L126.9 185.08 L127.3 185.07 L127.6 185.30 L128.0 184.77 L128.3 184.12 L128.7 184.00 L129.0 183.98 L129.4 185.38 L129.7 183.53 L130.1 184.07 L130.4 184.24 L130.8 184.58 L131.1 184.79 L131.5 183.59 L131.8 183.27 L132.2 184.37 L132.5 185.15 L132.9 184.84 L133.2 184.47 L133.6 184.11 L133.9 184.49 L134.3 184.13 L134.6 184.81 L135.0 183.74 L135.3 184.33 L135.7 184.16 L136.0 184.57 L136.4 184.35 L136.7 185.85 L137.1 185.15 L137.4 185.13 L137.8 182.82 L138.1 183.91 L138.5 183.72 L138.8 184.45 L139.2 182.61 L139.5 184.84 L139.9 184.75 L140.2 183.20 L140.6 183.40 L140.9 183.50 L141.3 184.03 L141.6 184.41 L142.0 185.31 L142.3 183.83 L142.7 184.44 L143.0 184.03 L143.4 185.06 L143.7 184.39 L144.1 184.78 L144.4 183.17 L144.8 183.73 L145.1 183.32 L145.5 184.81 L145.8 184.24 L146.2 183.60 L146.5 183.49 L146.9 184.09 L147.2 183.30 L147.6 183.14 L147.9 184.04 L148.3 185.32 L148.6 183.54 L149.0 183.33 L149.3 182.91 L149.7 182.79 L150.0 183.99 L150.4 184.18 L150.7 183.62 L151.1 183.82 L151.4 183.66 L151.8 183.64 L152.1 182.54 L152.5 183.20 L152.8 183.55 L153.2 182.94 L153.5 183.11 L153.9 182.86 L154.2 183.15 L154.6 183.89 L154.9 183.05 L155.3 183.18 L155.6 183.78 L156.0 183.65 L156.3 184.30 L156.7 181.82 L157.0 183.70 L157.4 182.81 L157.7 183.18 L158.1 183.61 L158.4 183.74 L158.8 183.69 L159.1 183.08 L159.5 184.00 L159.8 182.75 L160.2 182.81 L160.5 183.39 L160.9 182.49 L161.2 184.23 L161.6 183.46 L161.9 184.18 L162.3 182.72 L162.6 182.46 L163.0 182.79 L163.3 183.13 L163.7 182.25 L164.0 182.85 L164.4 182.56 L164.7 183.60 L165.1 182.09 L165.4 183.17 L165.8 182.05 L166.1 181.81 L166.5 181.95 L166.8 181.61 L167.2 182.45 L167.5 183.00 L167.9 182.41 L168.2 182.68 L168.6 183.31 L168.9 182.39 L169.3 182.32 L169.6 181.98 L170.0 181.09 L170.3 182.60 L170.7 180.94 L171.0 182.48 L171.4 182.02 L171.7 182.73 L172.1 181.93 L172.4 181.41 L172.8 182.15 L173.1 181.52 L173.5 181.74 L173.8 181.86 L174.2 181.71 L174.5 181.65 L174.9 181.20 L175.2 181.59 L175.6 180.30 L175.9 181.55 L176.3 180.80 L176.6 182.24 L177.0 182.27 L177.3 180.11 L177.7 181.41 L178.0 181.16 L178.4 180.49 L178.7 181.45 L179.1 180.73 L179.4 179.81 L179.8 180.71 L180.1 180.71 L180.5 180.80 L180.8 179.85 L181.2 180.97 L181.5 180.95 L181.9 179.64 L182.2 179.85 L182.6 180.10 L182.9 179.65 L183.3 180.98 L183.6 179.76 L184.0 178.66 L184.3 178.34 L184.7 178.05 L185.0 178.26 L185.4 174.74 L185.7 173.95 L185.7 174.23 L186.1 175.25 L186.4 178.42 L186.8 177.59 L187.1 178.95 L187.5 178.85 L187.8 179.30 L188.2 178.21 L188.5 180.15 L188.9 178.92 L189.2 179.01 L189.6 178.34 L189.9 178.40 L190.3 179.17 L190.6 179.37 L191.0 179.14 L191.3 179.36 L191.7 178.95 L192.0 178.42 L192.4 178.86 L192.7 178.62 L193.1 178.08 L193.4 178.52 L193.8 178.80 L194.1 178.03 L194.5 177.55 L194.8 178.16 L195.2 178.84 L195.5 177.37 L195.9 177.36 L196.2 177.24 L196.6 178.03 L196.9 175.95 L197.3 177.29 L197.6 177.73 L198.0 176.34 L198.3 177.74 L198.7 177.03 L199.0 176.23 L199.4 176.63 L199.7 175.40 L200.1 175.94 L200.4 177.40 L200.8 175.54 L201.1 177.23 L201.5 175.88 L201.8 176.49 L202.2 175.77 L202.5 174.20 L202.9 175.19 L203.2 175.59 L203.6 174.62 L203.9 174.40 L204.3 175.42 L204.6 174.67 L205.0 173.89 L205.3 174.46 L205.7 175.37 L206.0 174.40 L206.4 175.23 L206.7 175.52 L207.1 174.45 L207.4 173.60 L207.8 173.39 L208.1 174.17 L208.5 174.70 L208.8 174.25 L209.2 174.37 L209.5 173.67 L209.9 174.10 L210.2 173.54 L210.6 173.61 L210.9 172.96 L211.3 172.76 L211.6 173.46 L212.0 173.03 L212.3 173.11 L212.7 174.16 L213.0 173.63 L213.4 175.58 L213.7 174.27 L214.1 173.24 L214.4 174.14 L214.8 173.85 L215.1 173.15 L215.5 174.29 L215.8 173.05 L216.2 171.55 L216.5 174.03 L216.9 173.10 L217.2 174.44 L217.6 173.03 L217.9 172.66 L218.3 174.41 L218.6 172.69 L219.0 173.49 L219.3 174.28 L219.7 173.38 L220.0 173.22 L220.4 173.31 L220.7 173.76 L221.1 172.66 L221.4 173.54 L221.8 173.48 L222.1 174.58 L222.5 172.80 L222.8 172.37 L223.2 173.39 L223.5 172.59 L223.9 172.97 L224.2 172.79 L224.6 173.37 L224.9 172.08 L225.3 172.33 L225.6 170.59 L226.0 171.52 L226.3 172.93 L226.7 171.26 L227.0 170.97 L227.4 170.25 L227.7 170.91 L228.1 169.95 L228.4 168.07 L228.8 167.85 L229.1 165.54 L229.5 162.85 L229.8 157.39 L230.2 153.03 L230.5 147.41 L230.7 146.56 L230.9 147.50 L231.2 153.34 L231.6 160.32 L231.9 164.36 L232.3 168.53 L232.6 170.47 L233.0 172.52 L233.3 173.31 L233.7 173.61 L234.0 173.08 L234.4 174.96 L234.7 175.64 L235.1 175.53 L235.4 176.04 L235.8 175.58 L236.1 175.83 L236.5 175.63 L236.8 177.28 L237.2 176.64 L237.5 176.34 L237.9 175.91 L238.2 176.79 L238.6 177.93 L238.9 177.39 L239.3 176.72 L239.6 178.21 L240.0 178.30 L240.3 178.09 L240.7 178.05 L241.0 178.37 L241.4 178.06 L241.7 178.28 L242.1 177.35 L242.4 178.91 L242.8 178.16 L243.1 179.40 L243.5 176.83 L243.8 178.69 L244.2 178.94 L244.5 178.15 L244.9 178.74 L245.2 179.00 L245.6 178.96 L245.9 178.30 L246.3 178.63 L246.6 179.45 L247.0 179.69 L247.3 178.99 L247.7 179.03 L248.0 179.17 L248.4 179.77 L248.7 178.46 L249.1 178.34 L249.4 179.34 L249.8 178.60 L250.1 178.99 L250.5 179.48 L250.8 179.79 L251.2 178.84 L251.5 180.11 L251.9 178.50 L252.2 180.05 L252.6 178.74 L252.9 178.99 L253.3 180.28 L253.6 179.66 L254.0 179.47 L254.3 179.74 L254.7 180.38 L255.0 180.10 L255.4 180.17 L255.7 180.92 L256.1 179.85 L256.4 180.05 L256.8 180.08 L257.1 181.20 L257.5 181.14 L257.8 181.38 L258.2 180.60 L258.5 180.58 L258.9 181.27 L259.2 180.54 L259.6 181.36 L259.9 181.34 L260.3 180.51 L260.6 180.95 L261.0 180.98 L261.3 182.18 L261.7 182.77 L262.0 181.15 L262.4 181.28 L262.7 179.91 L263.1 181.50 L263.4 181.42 L263.8 180.82 L264.1 182.02 L264.5 180.63 L264.8 181.51 L265.2 181.78 L265.5 180.98 L265.9 182.32 L266.2 182.50 L266.6 181.06 L266.9 181.11 L267.3 182.38 L267.6 182.05 L268.0 181.39 L268.3 182.00 L268.7 182.16 L269.0 182.19 L269.4 182.83 L269.7 182.62 L270.1 183.50 L270.4 183.32 L270.8 182.95 L271.1 183.24 L271.5 183.44 L271.8 183.11 L272.2 181.97 L272.5 183.23 L272.9 182.77 L273.2 183.70 L273.6 182.81 L273.9 183.08 L274.3 182.98 L274.6 183.79 L275.0 182.92 L275.3 182.67 L275.7 183.02 L276.0 182.60 L276.4 182.96 L276.7 182.88 L277.1 183.06 L277.4 184.03 L277.8 182.69 L278.1 182.96 L278.5 182.84 L278.8 183.36 L279.2 182.30 L279.5 182.59 L279.9 182.99 L280.2 183.34 L280.6 183.01 L280.9 182.76 L281.3 182.57 L281.6 183.37 L282.0 183.91 L282.3 183.29 L282.7 183.23 L283.0 183.38 L283.4 182.61 L283.7 182.98 L284.1 183.02 L284.4 183.35 L284.8 183.18 L285.1 182.53 L285.5 183.86 L285.8 184.19 L286.2 183.11 L286.5 183.49 L286.9 183.43 L287.2 183.73 L287.6 182.49 L287.9 184.22 L288.3 183.08 L288.6 184.05 L289.0 183.41 L289.3 183.17 L289.7 183.32 L290.0 183.90 L290.4 182.95 L290.7 183.23 L291.1 183.18 L291.4 182.53 L291.8 184.19 L292.1 183.81 L292.5 183.44 L292.8 184.04 L293.2 182.85 L293.5 183.28 L293.9 184.21 L294.2 183.76 L294.6 181.99 L294.9 181.35 L295.3 182.54 L295.6 183.62 L296.0 182.75 L296.3 182.84 L296.7 183.24 L297.0 182.40 L297.4 182.94 L297.7 183.20 L298.1 182.98 L298.4 182.90 L298.8 182.33 L299.1 182.87 L299.5 182.33 L299.8 183.20 L300.2 183.77" fill="none" stroke="#2a65b4" stroke-width="1.8" stroke-linejoin="round"/><path d="M299.8 183.20 L300.2 183.77 L300.5 181.92 L300.9 181.06 L301.2 181.86 L301.6 182.16 L301.9 182.39 L302.3 182.29 L302.6 181.20 L303.0 181.08 L303.3 182.03 L303.7 180.70 L304.0 181.71 L304.4 180.91 L304.7 181.30 L305.1 181.16 L305.4 181.07 L305.8 180.98 L306.1 179.94 L306.5 180.48 L306.8 180.22 L307.2 180.25 L307.5 180.66 L307.9 180.19 L308.2 180.25 L308.6 180.53 L308.9 181.03 L309.3 181.85 L309.6 181.36 L310.0 182.63 L310.3 182.49 L310.7 182.52 L311.0 182.26 L311.4 183.33 L311.7 183.84 L312.1 182.91 L312.4 184.66 L312.8 185.01 L313.1 184.36 L313.5 184.44 L313.8 185.38 L314.2 184.80 L314.5 183.76 L314.9 184.19 L315.2 184.12 L315.6 184.12 L315.9 183.05 L316.3 184.56 L316.6 183.89 L317.0 184.27 L317.3 184.13 L317.7 184.61 L318.0 184.05 L318.4 183.81 L318.7 184.45 L319.1 184.87 L319.4 184.04 L319.8 184.85 L320.1 184.32 L320.5 183.94 L320.8 184.92 L321.2 183.81 L321.5 184.67 L321.9 183.96 L322.2 184.41 L322.6 183.62 L322.9 183.80 L323.3 184.69 L323.6 184.28 L324.0 184.21 L324.3 183.99 L324.7 184.40 L325.0 183.55 L325.4 183.68 L325.7 184.12 L326.1 183.81 L326.4 183.87 L326.8 184.16 L327.1 184.13 L327.5 184.09 L327.8 184.95 L328.2 184.66 L328.5 184.75 L328.9 184.18 L329.2 183.97 L329.6 183.54 L329.9 184.04 L330.3 183.22 L330.6 183.86 L331.0 184.43 L331.3 184.77 L331.7 184.44 L332.0 183.58 L332.4 184.15 L332.7 183.53 L333.1 184.22 L333.4 183.76 L333.8 184.15 L334.1 184.88 L334.5 184.10 L334.8 184.70 L335.2 183.69 L335.5 183.48 L335.9 184.26 L336.2 184.48 L336.6 183.49 L336.9 183.81 L337.3 183.17 L337.6 183.76 L338.0 184.29 L338.3 183.89 L338.7 183.71 L339.0 183.37 L339.4 184.21 L339.7 184.44 L340.1 184.39 L340.4 184.27 L340.8 183.62 L341.1 185.03 L341.5 184.25 L341.8 184.24 L342.2 184.68 L342.5 183.41 L342.9 184.39 L343.2 184.40 L343.6 184.67 L343.9 185.14 L344.3 184.79 L344.6 183.70 L345.0 184.21 L345.3 184.29 L345.7 184.10 L346.0 183.29 L346.4 182.95 L346.7 183.78 L347.1 183.52 L347.4 183.19 L347.8 182.26 L348.1 183.67 L348.5 181.40 L348.8 182.38 L349.2 183.32 L349.5 182.14 L349.9 182.15 L350.2 181.35 L350.6 182.33 L350.9 180.97 L351.3 181.50 L351.6 181.28 L352.0 180.58 L352.3 181.29 L352.7 180.09 L353.0 180.25 L353.4 180.38 L353.7 180.04 L354.1 180.27 L354.4 180.31 L354.8 179.60 L355.1 179.32 L355.5 179.28 L355.8 179.39 L356.2 179.95 L356.5 179.52 L356.9 179.84 L357.2 179.65 L357.6 179.35 L357.9 180.15 L358.3 179.33 L358.6 179.83 L359.0 180.54 L359.3 179.41 L359.7 179.91 L360.0 179.26 L360.4 179.78 L360.7 179.37 L361.1 179.91 L361.4 179.87 L361.8 180.21 L362.1 180.89 L362.5 180.34 L362.8 180.55 L363.2 180.26 L363.5 180.21 L363.9 179.98 L364.2 179.58 L364.6 180.46 L364.9 181.20 L365.3 180.71 L365.6 180.29 L366.0 181.31 L366.3 180.41 L366.7 180.36 L367.0 180.13 L367.4 180.27 L367.7 180.63 L368.1 181.68 L368.4 180.72 L368.8 180.38 L369.1 180.61 L369.5 180.82 L369.8 180.18 L370.2 181.04 L370.5 181.34 L370.9 181.20 L371.2 181.36 L371.6 180.55 L371.9 180.40 L372.3 181.78 L372.6 181.72 L373.0 180.57 L373.3 181.39 L373.7 181.35 L374.0 181.62 L374.4 181.50 L374.7 181.22 L375.1 181.56 L375.4 181.58 L375.8 181.52 L376.1 180.75 L376.5 180.27 L376.8 181.30 L377.2 180.95 L377.5 181.83 L377.9 182.08 L378.2 181.91 L378.6 181.66 L378.9 181.89 L379.3 182.42 L379.6 181.60 L380.0 182.38 L380.3 182.32 L380.7 182.15 L381.0 182.72 L381.4 181.78 L381.7 182.53 L382.1 181.70 L382.4 181.79 L382.8 181.67 L383.1 182.35 L383.5 181.74 L383.8 182.20 L384.2 181.67 L384.5 182.68 L384.9 183.03 L385.2 182.32 L385.6 182.97 L385.9 182.49 L386.3 183.23 L386.6 182.31 L387.0 181.57 L387.3 182.96 L387.7 182.24 L388.0 181.84 L388.4 182.02 L388.7 181.60 L389.1 182.26 L389.4 181.87 L389.8 183.03 L390.1 182.67 L390.5 181.63 L390.8 181.71 L391.2 182.15 L391.5 181.55 L391.9 182.38 L392.2 182.42 L392.6 182.10 L392.9 182.21 L393.3 182.69 L393.6 183.12 L394.0 183.16 L394.3 182.52 L394.7 182.90 L395.0 182.19 L395.4 182.72 L395.7 182.11 L396.1 182.88 L396.4 182.01 L396.8 182.14 L397.1 182.58 L397.5 182.85 L397.8 181.96 L398.2 182.38 L398.5 182.69 L398.9 182.74 L399.2 182.27 L399.6 182.70 L399.9 182.55 L400.3 183.31 L400.6 182.94 L401.0 182.10 L401.3 181.72 L401.7 182.76 L402.0 183.26 L402.4 182.82 L402.7 183.15 L403.1 182.54 L403.4 182.15 L403.8 183.11 L404.1 182.83 L404.5 183.10 L404.8 182.18 L405.2 182.89 L405.5 182.54 L405.9 183.19 L406.2 182.57 L406.6 182.57 L406.9 182.58 L407.3 183.42 L407.6 182.86 L408.0 182.51 L408.3 182.39 L408.7 182.38 L409.0 183.50 L409.4 182.02 L409.7 182.43 L410.1 183.08 L410.4 183.30 L410.8 182.67 L411.1 183.02 L411.5 182.90 L411.8 182.82 L412.2 182.08 L412.5 182.27 L412.9 180.75 L413.2 180.29 L413.5 178.77 L413.6 179.76 L413.9 179.70 L414.3 180.65 L414.6 182.27 L415.0 182.12 L415.3 182.98 L415.7 182.49 L416.0 183.83 L416.4 183.21 L416.7 182.78 L417.1 183.43 L417.4 183.81 L417.8 183.12 L418.1 183.74 L418.5 184.45 L418.8 183.94 L419.2 183.57 L419.5 183.33 L419.9 183.87 L420.2 182.94 L420.6 182.27 L420.9 183.35 L421.3 183.17 L421.6 184.46 L422.0 183.75 L422.3 183.25 L422.7 183.19 L423.0 183.95 L423.4 183.36 L423.7 183.48 L424.1 183.71 L424.4 183.80 L424.8 183.82 L425.1 183.84 L425.5 184.38 L425.8 184.57 L426.2 183.07 L426.5 184.99 L426.9 183.89 L427.2 184.41 L427.6 183.52 L427.9 184.01 L428.3 183.97 L428.6 183.94 L429.0 184.28 L429.3 184.19 L429.7 183.46 L430.0 183.87 L430.4 184.26 L430.7 184.25 L431.1 183.80 L431.4 183.83 L431.8 183.90 L432.1 183.48 L432.5 183.41 L432.8 184.70 L433.2 183.83 L433.5 184.06 L433.9 183.69 L434.2 184.61 L434.6 184.83 L434.9 183.95 L435.3 184.29 L435.6 183.73 L436.0 184.87 L436.3 184.50 L436.7 183.72 L437.0 184.66 L437.4 184.27 L437.7 184.31 L438.1 184.29 L438.4 183.84 L438.8 183.90 L439.1 184.43 L439.5 184.14 L439.8 183.75 L440.2 185.09 L440.5 184.09 L440.9 183.95 L441.2 183.89 L441.6 184.53 L441.9 184.66 L442.3 184.34 L442.6 184.63 L443.0 183.58 L443.3 184.09 L443.7 184.06 L444.0 184.28 L444.4 184.50 L444.7 183.38 L445.1 185.71 L445.4 183.92 L445.8 184.47 L446.1 184.70 L446.5 184.72 L446.8 184.45 L447.2 183.04 L447.5 183.87 L447.9 184.71 L448.2 183.96 L448.6 183.91 L448.9 183.33 L449.3 184.95 L449.6 184.64 L450.0 184.01 L450.3 184.36 L450.7 184.39 L451.0 183.94 L451.4 184.32 L451.7 184.57 L452.1 184.71 L452.4 185.04 L452.8 184.49 L453.1 184.28 L453.5 184.68 L453.8 184.22 L454.2 183.95 L454.5 185.03 L454.9 184.36 L455.2 184.59 L455.6 184.84 L455.9 184.05 L456.3 184.85 L456.6 184.77 L457.0 184.53 L457.3 184.77 L457.7 184.26 L458.0 183.61 L458.4 184.49 L458.7 184.21 L459.1 185.02 L459.4 184.76 L459.8 184.41 L460.1 184.68 L460.5 185.27 L460.8 185.18 L461.2 184.85 L461.5 184.88 L461.9 184.57 L462.2 184.65 L462.6 184.98 L462.9 184.67 L463.3 184.87 L463.6 184.24 L464.0 184.00 L464.3 183.99 L464.7 184.57 L465.0 185.37 L465.4 185.31 L465.7 184.34 L466.1 184.10 L466.4 185.16 L466.8 185.02 L467.1 184.21 L467.5 185.31 L467.8 184.92 L468.2 185.45 L468.5 185.01 L468.9 185.27 L469.2 185.02 L469.6 184.45 L469.9 184.79 L470.3 184.59 L470.6 185.28 L471.0 184.47 L471.3 184.23 L471.7 185.24 L472.0 185.46 L472.4 185.60 L472.7 185.45 L473.1 184.29 L473.4 184.66 L473.8 184.73 L474.1 184.98 L474.5 184.03 L474.8 185.00 L475.2 185.14 L475.5 184.59 L475.9 185.08 L476.2 185.57 L476.6 185.07 L476.9 185.53 L477.3 185.52 L477.6 185.25 L478.0 185.25 L478.3 184.92 L478.7 185.65 L479.0 184.89 L479.4 184.79 L479.7 185.43 L480.1 184.79 L480.4 185.32 L480.8 185.61 L481.1 185.17 L481.5 185.19 L481.8 185.56 L482.2 185.50 L482.5 184.47 L482.9 184.57 L483.2 185.75 L483.6 185.32 L483.9 184.20 L484.3 184.52 L484.6 185.13 L485.0 184.67 L485.3 185.31 L485.7 185.11 L486.0 185.28 L486.4 184.50 L486.7 185.27 L487.1 185.82 L487.4 184.51 L487.8 185.37 L488.1 185.07 L488.5 184.70 L488.8 184.02 L489.2 182.92 L489.5 182.10 L489.9 181.79 L490.1 181.65 L490.2 181.89 L490.6 182.76 L490.9 183.74 L491.3 183.78 L491.6 183.82 L492.0 184.70 L492.3 184.98 L492.7 184.90 L493.0 184.25 L493.4 184.75 L493.7 184.36 L494.1 185.12 L494.4 184.61 L494.8 185.02 L495.1 185.26 L495.5 185.19 L495.8 185.75 L496.2 184.64 L496.5 184.17 L496.9 185.58 L497.2 185.79 L497.6 185.81 L497.9 185.30 L498.3 185.42 L498.6 185.23 L499.0 184.60 L499.3 184.92 L499.7 185.41 L500.0 184.93 L500.4 186.05 L500.7 184.50 L501.1 185.00 L501.4 185.69 L501.8 184.92 L502.1 184.68 L502.5 184.58 L502.8 184.87 L503.2 185.88 L503.5 185.38 L503.9 185.43 L504.2 184.97 L504.6 185.59 L504.9 185.27 L505.3 184.82 L505.6 185.04 L506.0 185.34 L506.3 185.78 L506.7 185.24 L507.0 185.50 L507.4 186.19 L507.7 184.93 L508.1 184.74 L508.4 185.75 L508.8 185.51 L509.1 185.28 L509.5 185.45 L509.8 185.19 L510.2 185.58 L510.5 185.21 L510.9 185.73 L511.2 184.85 L511.6 185.02 L511.9 185.44 L512.3 185.19 L512.6 185.72 L513.0 185.40 L513.3 185.18 L513.7 185.53 L514.0 185.20 L514.4 184.75 L514.7 184.95 L515.1 185.10 L515.4 185.26 L515.8 185.53 L516.1 185.90 L516.5 185.75 L516.8 186.31 L517.2 186.09 L517.5 185.44 L517.9 186.28 L518.2 186.07 L518.6 185.35 L518.9 185.70 L519.3 186.06 L519.6 185.68 L520.0 186.04 L520.3 185.77 L520.7 185.92 L521.0 185.46 L521.4 185.79 L521.7 185.46 L522.1 185.94 L522.4 184.88 L522.8 185.80 L523.1 186.22 L523.5 185.93 L523.8 185.66 L524.2 185.92 L524.5 185.31 L524.9 185.32 L525.2 185.54 L525.6 185.65 L525.9 186.15 L526.3 185.33 L526.6 186.19 L527.0 185.04 L527.3 185.40 L527.7 185.74 L528.0 186.29 L528.4 185.50 L528.7 184.82 L529.1 185.98 L529.4 185.79 L529.8 185.32 L530.1 185.34 L530.5 185.49 L530.8 185.84 L531.2 186.09 L531.5 185.13 L531.9 186.82 L532.2 185.76 L532.6 185.61 L532.9 186.07 L533.3 185.82 L533.6 186.81 L534.0 186.25 L534.3 185.59 L534.7 185.57 L535.0 185.52 L535.4 185.58 L535.7 186.03 L536.1 185.44 L536.4 186.45 L536.8 185.68 L537.1 185.65 L537.5 186.13 L537.8 184.81 L538.2 185.27 L538.5 185.96 L538.9 185.69 L539.2 185.67 L539.6 185.85 L539.9 185.40 L540.3 185.59 L540.6 185.04 L541.0 184.81 L541.3 186.21 L541.7 185.22 L542.0 185.31 L542.4 186.26 L542.7 186.10 L543.1 185.38 L543.4 185.37 L543.8 185.56 L544.1 185.16 L544.5 185.83 L544.8 185.64 L545.2 185.63 L545.5 185.90 L545.9 185.87 L546.2 186.37 L546.6 186.21 L546.9 184.75 L547.3 185.91 L547.6 184.99 L548.0 184.83 L548.3 185.78 L548.7 185.12 L549.0 185.28 L549.4 185.87 L549.7 185.06 L550.1 184.92 L550.4 185.43 L550.8 185.77 L551.1 185.39 L551.5 184.36 L551.8 184.65 L552.2 184.72 L552.5 185.46 L552.9 184.75 L553.2 184.46 L553.6 184.37 L553.9 183.57 L554.0 183.92 L554.3 183.99 L554.6 183.54 L555.0 184.24 L555.3 184.75 L555.7 184.21 L556.0 185.22 L556.4 185.31 L556.7 185.52 L557.1 184.78 L557.4 185.22 L557.8 185.87 L558.1 185.60 L558.5 184.91 L558.8 185.39 L559.2 185.94 L559.5 185.28 L559.9 185.49 L560.2 186.48 L560.6 185.32 L560.9 185.29 L561.3 184.89 L561.6 185.04 L562.0 186.01 L562.3 185.28 L562.7 184.81 L563.0 184.92 L563.4 185.34 L563.7 185.68 L564.1 185.00 L564.4 185.65 L564.8 185.11 L565.1 185.49 L565.5 185.56 L565.8 185.59 L566.2 185.12 L566.5 185.24 L566.9 185.54 L567.2 184.72 L567.6 185.38 L567.9 185.53 L568.3 185.76 L568.6 185.27 L569.0 185.20 L569.3 185.34 L569.7 184.94 L570.0 185.18 L570.4 185.45 L570.7 185.39 L571.1 184.79 L571.4 185.10 L571.8 184.30 L572.1 185.60 L572.5 185.00 L572.8 185.34 L573.2 184.73 L573.5 185.19 L573.9 185.42 L574.2 185.66 L574.6 184.60 L574.9 185.58 L575.3 185.13 L575.6 184.85 L576.0 185.40 L576.3 185.05 L576.7 185.05 L577.0 184.86 L577.4 185.27 L577.7 185.18 L578.1 185.08 L578.4 184.73 L578.8 184.92 L579.1 185.33 L579.5 185.72 L579.8 185.13 L580.2 185.77 L580.5 185.13 L580.9 184.64 L581.2 185.41 L581.6 184.68 L581.9 185.29 L582.3 185.59 L582.6 184.97 L583.0 185.06 L583.3 186.21 L583.7 185.20 L584.0 185.21 L584.4 185.43 L584.7 185.03 L585.1 185.03 L585.4 185.24 L585.8 183.99 L586.1 185.70 L586.5 184.58 L586.8 184.57 L587.2 185.29 L587.5 185.06 L587.9 184.48 L588.2 185.13 L588.6 184.52 L588.9 184.71 L589.3 184.35 L589.6 184.65 L590.0 185.19 L590.3 185.06 L590.7 185.14 L591.0 185.41 L591.4 184.98 L591.7 184.69 L592.1 184.86 L592.4 185.72 L592.8 184.99 L593.1 185.12 L593.5 184.92 L593.8 185.07 L594.2 185.15 L594.5 184.95 L594.9 184.88 L595.2 184.59 L595.6 184.56 L595.9 185.12 L596.3 185.27 L596.6 185.34 L597.0 184.95 L597.3 184.55 L597.7 185.20 L598.0 185.19 L598.4 184.23 L598.7 185.26 L599.1 185.16 L599.4 185.64 L599.8 184.38 L600.1 184.31 L600.5 185.23 L600.8 184.07 L601.2 184.54 L601.5 184.37 L601.9 184.41 L602.2 184.00 L602.6 184.75 L602.9 185.29 L603.3 185.04 L603.6 185.04 L604.0 184.67 L604.3 185.48 L604.7 185.06 L605.0 185.29 L605.4 184.12 L605.7 184.97 L606.1 184.30 L606.4 184.96 L606.8 184.89 L607.1 184.29 L607.5 184.87 L607.8 185.31 L608.2 185.01 L608.5 185.05 L608.9 184.39 L609.2 184.47 L609.6 184.27 L609.9 184.82 L610.3 185.29 L610.6 184.95 L611.0 184.75 L611.3 184.24 L611.7 184.94 L612.0 184.63 L612.4 183.88 L612.7 183.95 L613.1 184.57 L613.4 184.32 L613.8 185.46 L614.1 184.73 L614.5 184.24 L614.8 184.48 L615.2 185.41 L615.5 184.27 L615.9 185.03 L616.2 184.88 L616.6 185.34 L616.9 184.91 L617.3 184.49 L617.6 184.90 L618.0 184.69 L618.3 185.09 L618.7 184.63 L619.0 185.54 L619.4 184.60 L619.7 184.84 L620.1 184.34 L620.4 184.69 L620.8 184.64 L621.1 184.70 L621.5 185.02 L621.8 184.38 L622.2 184.23 L622.5 185.10 L622.9 184.47 L623.2 184.30 L623.6 185.11 L623.9 184.94 L624.3 183.40 L624.6 184.41 L625.0 184.93 L625.3 184.95 L625.7 184.34 L626.0 185.26 L626.4 184.21 L626.7 184.45 L627.1 184.61 L627.4 184.55 L627.8 184.90 L628.1 185.00 L628.5 184.51 L628.8 185.16 L629.2 184.22 L629.5 184.43 L629.9 185.29 L630.2 184.56 L630.6 184.99 L630.9 184.31 L631.3 184.38 L631.6 184.45 L632.0 184.57 L632.3 184.34 L632.7 184.49 L633.0 184.78 L633.4 185.02 L633.7 184.52 L634.1 184.76 L634.4 184.87 L634.8 183.98 L635.1 183.75 L635.5 185.17 L635.8 185.04 L636.2 184.47 L636.5 184.59 L636.9 184.01 L637.2 183.81 L637.6 184.56 L637.9 183.75 L638.3 184.82 L638.6 184.10 L639.0 184.53 L639.3 185.27 L639.7 185.24 L640.0 184.27 L640.4 184.86 L640.7 183.92 L641.1 184.11 L641.4 184.54 L641.8 184.99 L642.1 184.11 L642.5 184.60 L642.8 184.40 L643.2 183.78 L643.5 184.28 L643.9 185.01 L644.2 184.29 L644.6 184.55 L644.9 184.70 L645.3 183.99 L645.6 184.87 L646.0 184.99" fill="none" stroke="#2a65b4" stroke-width="1.6" stroke-linejoin="round"/><path d="M98.6 129.18 L98.9 129.49 L99.3 130.68 L99.6 130.03 L100.0 128.53 L100.3 129.60 L100.7 129.19 L101.0 129.70 L101.4 128.55 L101.7 129.76 L102.1 129.75 L102.4 130.62 L102.8 129.80 L103.1 129.93 L103.5 128.63 L103.8 131.06 L104.2 128.35 L104.5 130.32 L104.9 129.38 L105.2 129.03 L105.6 129.17 L105.9 129.16 L106.3 129.85 L106.6 129.53 L107.0 130.56 L107.3 128.41 L107.7 129.60 L108.0 129.02 L108.4 130.10 L108.7 128.22 L109.1 129.38 L109.4 129.74 L109.8 128.63 L110.1 130.24 L110.5 129.72 L110.8 130.25 L111.2 130.22 L111.5 128.96 L111.9 129.08 L112.2 129.47 L112.6 130.09 L112.9 130.15 L113.3 129.14 L113.6 129.20 L114.0 129.08 L114.3 129.22 L114.7 129.44 L115.0 129.51 L115.4 130.94 L115.7 129.27 L116.1 129.41 L116.4 129.90 L116.8 128.98 L117.1 129.36 L117.5 129.61 L117.8 130.10 L118.2 128.74 L118.5 130.49 L118.9 129.37 L119.2 129.71 L119.6 130.15 L119.9 130.03 L120.3 130.29 L120.6 129.71 L121.0 129.59 L121.3 129.80 L121.7 128.95 L122.0 130.39 L122.4 129.09 L122.7 128.78 L123.1 130.94 L123.4 129.51 L123.8 128.83 L124.1 130.80 L124.5 129.38 L124.8 130.29 L125.2 129.06 L125.5 129.44 L125.9 128.50 L126.2 128.36 L126.6 128.96 L126.9 129.54 L127.3 130.09 L127.6 131.13 L128.0 128.87 L128.3 130.18 L128.7 129.11 L129.0 129.39 L129.4 128.51 L129.7 128.49 L130.1 128.93 L130.4 128.64 L130.8 129.40 L131.1 128.93 L131.5 130.18 L131.8 129.45 L132.2 129.44 L132.5 130.06 L132.9 129.64 L133.2 129.26 L133.6 129.21 L133.9 129.17 L134.3 129.93 L134.6 129.72 L135.0 129.43 L135.3 129.70 L135.7 128.81 L136.0 129.48 L136.4 128.21 L136.7 129.99 L137.1 129.15 L137.4 129.20 L137.8 129.45 L138.1 129.04 L138.5 128.86 L138.8 129.78 L139.2 129.07 L139.5 128.38 L139.9 129.24 L140.2 127.83 L140.6 130.00 L140.9 128.79 L141.3 128.92 L141.6 130.34 L142.0 130.25 L142.3 128.91 L142.7 129.23 L143.0 129.51 L143.4 129.88 L143.7 128.68 L144.1 128.84 L144.4 129.53 L144.8 128.89 L145.1 129.19 L145.5 129.08 L145.8 127.93 L146.2 128.09 L146.5 126.91 L146.9 128.44 L147.2 129.47 L147.6 127.86 L147.9 129.36 L148.3 129.19 L148.6 128.49 L149.0 128.51 L149.3 128.55 L149.7 127.92 L150.0 128.28 L150.4 128.41 L150.7 128.82 L151.1 128.92 L151.4 127.90 L151.8 128.89 L152.1 127.81 L152.5 128.17 L152.8 128.49 L153.2 128.20 L153.5 128.10 L153.9 128.32 L154.2 127.75 L154.6 127.65 L154.9 127.91 L155.3 128.63 L155.6 127.91 L156.0 129.18 L156.3 128.04 L156.7 125.94 L157.0 127.55 L157.4 128.88 L157.7 127.77 L158.1 127.45 L158.4 127.13 L158.8 128.53 L159.1 128.28 L159.5 128.03 L159.8 127.84 L160.2 128.47 L160.5 128.03 L160.9 126.66 L161.2 127.93 L161.6 127.50 L161.9 127.29 L162.3 127.82 L162.6 127.31 L163.0 125.35 L163.3 128.23 L163.7 127.86 L164.0 127.07 L164.4 126.88 L164.7 127.23 L165.1 126.22 L165.4 127.22 L165.8 126.83 L166.1 126.72 L166.5 126.31 L166.8 126.44 L167.2 127.56 L167.5 127.68 L167.9 127.10 L168.2 126.71 L168.6 126.14 L168.9 127.14 L169.3 127.69 L169.6 125.56 L170.0 127.34 L170.3 125.13 L170.7 126.28 L171.0 126.72 L171.4 125.55 L171.7 125.41 L172.1 126.49 L172.4 126.90 L172.8 125.99 L173.1 127.14 L173.5 125.72 L173.8 127.34 L174.2 126.24 L174.5 126.28 L174.9 126.49 L175.2 126.27 L175.6 127.22 L175.9 127.42 L176.3 126.28 L176.6 125.77 L177.0 125.05 L177.3 125.27 L177.7 125.71 L178.0 125.58 L178.4 125.56 L178.7 125.53 L179.1 125.79 L179.4 124.54 L179.8 124.69 L180.1 126.03 L180.5 125.79 L180.8 124.84 L181.2 125.97 L181.5 124.63 L181.9 124.85 L182.2 123.77 L182.6 125.45 L182.9 124.84 L183.3 125.48 L183.6 125.19 L184.0 124.74 L184.3 124.72 L184.7 125.34 L185.0 124.40 L185.4 124.35 L185.7 124.44 L186.1 124.86 L186.4 124.88 L186.8 125.47 L187.1 124.12 L187.5 124.94 L187.8 123.64 L188.2 124.40 L188.5 124.03 L188.9 125.02 L189.2 124.24 L189.6 123.49 L189.9 124.10 L190.3 123.91 L190.6 123.43 L191.0 123.41 L191.3 122.94 L191.7 125.30 L192.0 123.56 L192.4 124.06 L192.7 122.62 L193.1 122.63 L193.4 123.20 L193.8 123.16 L194.1 123.73 L194.5 122.51 L194.8 123.47 L195.2 124.06 L195.5 122.44 L195.9 123.58 L196.2 122.32 L196.6 123.13 L196.9 123.10 L197.3 123.95 L197.6 122.33 L198.0 122.84 L198.3 123.37 L198.7 121.88 L199.0 122.59 L199.4 121.99 L199.7 122.06 L200.1 122.91 L200.4 122.88 L200.8 124.06 L201.1 123.23 L201.5 123.13 L201.8 122.14 L202.2 122.01 L202.5 122.25 L202.9 120.64 L203.2 123.15 L203.6 121.59 L203.9 121.30 L204.3 121.64 L204.6 122.46 L205.0 122.66 L205.3 121.56 L205.7 122.04 L206.0 121.68 L206.4 121.02 L206.7 121.74 L207.1 121.60 L207.4 120.54 L207.8 122.21 L208.1 120.40 L208.5 121.51 L208.8 120.60 L209.2 120.69 L209.5 120.69 L209.9 121.54 L210.2 120.20 L210.6 120.83 L210.9 121.92 L211.3 120.42 L211.6 120.80 L212.0 121.21 L212.3 120.36 L212.7 121.00 L213.0 120.21 L213.4 121.05 L213.7 120.60 L214.1 119.90 L214.4 121.38 L214.8 120.36 L215.1 120.19 L215.5 119.73 L215.8 119.98 L216.2 120.18 L216.5 120.30 L216.9 120.86 L217.2 119.24 L217.6 119.83 L217.9 120.78 L218.3 120.08 L218.6 120.18 L219.0 120.90 L219.3 120.03 L219.7 120.07 L220.0 119.69 L220.4 120.81 L220.7 120.29 L221.1 119.09 L221.4 119.86 L221.8 118.70 L222.1 120.10 L222.5 119.77 L222.8 119.17 L223.2 118.95 L223.5 117.98 L223.9 119.57 L224.2 118.93 L224.6 118.73 L224.9 119.31 L225.3 118.32 L225.6 118.27 L226.0 118.09 L226.3 117.53 L226.7 119.83 L227.0 118.05 L227.4 117.85 L227.7 118.52 L228.1 115.66 L228.4 117.35 L228.8 116.87 L229.1 115.48 L229.5 115.27 L229.8 111.88 L230.2 110.60 L230.5 108.24 L230.9 104.83 L230.9 105.33 L231.2 107.83 L231.6 111.14 L231.9 113.61 L232.3 116.33 L232.6 117.68 L233.0 117.64 L233.3 119.18 L233.7 118.97 L234.0 118.88 L234.4 118.93 L234.7 121.38 L235.1 120.81 L235.4 122.32 L235.8 120.22 L236.1 121.06 L236.5 121.61 L236.8 121.40 L237.2 121.90 L237.5 121.75 L237.9 121.34 L238.2 120.30 L238.6 121.27 L238.9 123.07 L239.3 122.52 L239.6 122.98 L240.0 121.77 L240.3 122.08 L240.7 121.70 L241.0 122.58 L241.4 122.43 L241.7 122.74 L242.1 123.65 L242.4 122.01 L242.8 123.09 L243.1 121.75 L243.5 123.43 L243.8 122.48 L244.2 122.77 L244.5 122.96 L244.9 123.99 L245.2 122.95 L245.6 122.70 L245.9 122.31 L246.3 123.31 L246.6 122.62 L247.0 122.90 L247.3 123.26 L247.7 123.76 L248.0 122.91 L248.4 123.86 L248.7 124.62 L249.1 122.55 L249.4 124.46 L249.8 125.02 L250.1 123.28 L250.5 124.12 L250.8 122.88 L251.2 124.03 L251.5 123.65 L251.9 124.11 L252.2 123.37 L252.6 123.48 L252.9 123.77 L253.3 123.65 L253.6 123.75 L254.0 124.07 L254.3 123.53 L254.7 124.20 L255.0 124.64 L255.4 122.92 L255.7 124.55 L256.1 124.00 L256.4 123.82 L256.8 123.72 L257.1 124.08 L257.5 124.19 L257.8 124.92 L258.2 123.96 L258.5 125.45 L258.9 124.34 L259.2 125.32 L259.6 125.62 L259.9 124.24 L260.3 125.71 L260.6 126.45 L261.0 124.88 L261.3 125.57 L261.7 125.19 L262.0 125.37 L262.4 125.26 L262.7 125.12 L263.1 125.92 L263.4 126.07 L263.8 125.58 L264.1 126.55 L264.5 126.35 L264.8 126.16 L265.2 125.35 L265.5 126.98 L265.9 126.68 L266.2 124.65 L266.6 125.32 L266.9 125.75 L267.3 126.64 L267.6 126.87 L268.0 126.01 L268.3 126.38 L268.7 126.69 L269.0 125.57 L269.4 126.72 L269.7 126.24 L270.1 126.58 L270.4 126.49 L270.8 125.88 L271.1 126.03 L271.5 126.69 L271.8 126.76 L272.2 126.52 L272.5 127.28 L272.9 126.44 L273.2 125.94 L273.6 126.43 L273.9 126.51 L274.3 126.53 L274.6 127.26 L275.0 126.87 L275.3 127.17 L275.7 126.91 L276.0 126.45 L276.4 127.12 L276.7 126.37 L277.1 126.65 L277.4 125.93 L277.8 126.54 L278.1 126.29 L278.5 126.67 L278.8 127.47 L279.2 127.76 L279.5 127.00 L279.9 126.40 L280.2 126.86 L280.6 126.52 L280.9 126.04 L281.3 126.33 L281.6 126.22 L282.0 126.01 L282.3 127.09 L282.7 126.02 L283.0 126.04 L283.4 126.68 L283.7 125.91 L284.1 125.65 L284.4 125.80 L284.8 126.51 L285.1 126.44 L285.5 126.39 L285.8 125.96 L286.2 125.71 L286.5 126.68 L286.9 125.40 L287.2 126.05 L287.6 125.45 L287.9 125.93 L288.3 126.05 L288.6 126.77 L289.0 124.59 L289.3 126.82 L289.7 125.62 L290.0 126.23 L290.4 126.48 L290.7 125.65 L291.1 125.99 L291.4 126.28 L291.8 125.95 L292.1 125.61 L292.5 126.05 L292.8 125.97 L293.2 125.10 L293.5 126.54 L293.9 125.92 L294.2 124.52 L294.6 125.30 L294.9 126.56 L295.3 126.45 L295.6 125.74 L296.0 124.72 L296.3 125.41 L296.7 126.03 L297.0 125.65 L297.4 125.25 L297.7 125.01 L298.1 125.75 L298.4 125.23 L298.8 125.56 L299.1 125.69 L299.5 126.32 L299.8 125.65 L300.2 125.74" fill="none" stroke="#3f9a6c" stroke-width="1.8" stroke-linejoin="round"/><path d="M299.8 125.65 L300.2 125.74 L300.5 124.79 L300.9 126.27 L301.2 126.22 L301.6 125.83 L301.9 124.79 L302.3 125.67 L302.6 126.04 L303.0 127.08 L303.3 126.40 L303.7 126.55 L304.0 126.62 L304.4 126.89 L304.7 125.74 L305.1 125.90 L305.4 125.77 L305.8 126.23 L306.1 126.23 L306.5 126.47 L306.8 125.97 L307.2 126.53 L307.5 126.11 L307.9 127.54 L308.2 126.32 L308.6 127.79 L308.9 127.39 L309.3 126.10 L309.6 127.13 L310.0 127.00 L310.3 126.04 L310.7 127.06 L311.0 126.77 L311.4 127.00 L311.7 126.48 L312.1 126.87 L312.4 127.11 L312.8 126.87 L313.1 126.71 L313.5 126.94 L313.8 126.60 L314.2 127.23 L314.5 125.95 L314.9 127.81 L315.2 127.19 L315.6 127.40 L315.9 127.60 L316.3 126.70 L316.6 128.29 L317.0 126.82 L317.3 127.54 L317.7 127.51 L318.0 127.97 L318.4 127.42 L318.7 126.84 L319.1 127.63 L319.4 126.45 L319.8 127.46 L320.1 127.38 L320.5 128.27 L320.8 127.51 L321.2 127.47 L321.5 127.37 L321.9 127.36 L322.2 127.51 L322.6 128.03 L322.9 127.25 L323.3 127.75 L323.6 127.25 L324.0 127.83 L324.3 127.99 L324.7 127.44 L325.0 127.74 L325.4 128.06 L325.7 128.36 L326.1 128.46 L326.4 128.05 L326.8 127.72 L327.1 127.49 L327.5 128.51 L327.8 128.79 L328.2 128.39 L328.5 128.91 L328.9 128.12 L329.2 128.18 L329.6 129.00 L329.9 127.99 L330.3 128.62 L330.6 128.51 L331.0 128.39 L331.3 129.00 L331.7 127.93 L332.0 128.09 L332.4 127.40 L332.7 127.79 L333.1 127.99 L333.4 128.01 L333.8 128.06 L334.1 128.24 L334.5 127.83 L334.8 127.28 L335.2 128.11 L335.5 128.20 L335.9 127.54 L336.2 127.67 L336.6 128.67 L336.9 128.35 L337.3 128.35 L337.6 128.16 L338.0 127.93 L338.3 127.64 L338.7 128.05 L339.0 127.72 L339.4 127.60 L339.7 127.75 L340.1 127.70 L340.4 128.06 L340.8 127.30 L341.1 128.66 L341.5 127.23 L341.8 127.44 L342.2 127.97 L342.5 127.23 L342.9 127.35 L343.2 127.53 L343.6 126.30 L343.9 127.27 L344.3 127.06 L344.6 127.33 L345.0 127.60 L345.3 127.64 L345.7 127.96 L346.0 127.92 L346.4 127.73 L346.7 127.24 L347.1 127.59 L347.4 126.67 L347.8 126.94 L348.1 127.47 L348.5 127.11 L348.8 126.14 L349.2 126.37 L349.5 126.88 L349.9 126.67 L350.2 126.77 L350.6 125.53 L350.9 125.64 L351.3 125.96 L351.6 125.57 L352.0 125.86 L352.3 125.79 L352.7 125.83 L353.0 125.54 L353.4 125.73 L353.7 125.73 L354.1 125.38 L354.4 124.73 L354.8 125.66 L355.1 125.13 L355.5 125.12 L355.8 124.93 L356.2 124.12 L356.5 124.91 L356.9 124.35 L357.2 124.15 L357.6 125.19 L357.9 124.58 L358.3 124.84 L358.6 125.12 L359.0 125.44 L359.3 124.08 L359.7 124.54 L360.0 125.14 L360.4 124.63 L360.7 123.61 L361.1 125.01 L361.4 125.08 L361.8 125.33 L362.1 125.13 L362.5 124.89 L362.8 125.19 L363.2 125.11 L363.5 124.95 L363.9 125.29 L364.2 125.36 L364.6 124.83 L364.9 125.68 L365.3 125.63 L365.6 125.64 L366.0 124.25 L366.3 125.43 L366.7 125.36 L367.0 125.04 L367.4 125.70 L367.7 124.89 L368.1 126.02 L368.4 125.71 L368.8 125.38 L369.1 126.19 L369.5 125.83 L369.8 125.80 L370.2 125.17 L370.5 125.94 L370.9 126.32 L371.2 126.23 L371.6 125.29 L371.9 126.40 L372.3 126.51 L372.6 126.24 L373.0 125.77 L373.3 125.35 L373.7 125.61 L374.0 125.77 L374.4 126.14 L374.7 126.28 L375.1 125.79 L375.4 125.46 L375.8 125.98 L376.1 125.64 L376.5 126.74 L376.8 125.73 L377.2 126.45 L377.5 126.61 L377.9 125.91 L378.2 126.74 L378.6 126.31 L378.9 126.07 L379.3 126.04 L379.6 126.49 L380.0 126.91 L380.3 125.74 L380.7 126.78 L381.0 126.50 L381.4 126.27 L381.7 126.53 L382.1 126.57 L382.4 126.55 L382.8 126.90 L383.1 126.21 L383.5 127.37 L383.8 126.93 L384.2 126.33 L384.5 125.79 L384.9 126.56 L385.2 126.40 L385.6 126.87 L385.9 126.86 L386.3 127.34 L386.6 126.51 L387.0 126.88 L387.3 126.39 L387.7 126.41 L388.0 127.18 L388.4 126.51 L388.7 126.52 L389.1 126.42 L389.4 126.69 L389.8 126.80 L390.1 126.51 L390.5 126.10 L390.8 126.70 L391.2 126.23 L391.5 126.41 L391.9 126.64 L392.2 126.66 L392.6 125.62 L392.9 127.24 L393.3 126.88 L393.6 127.33 L394.0 127.57 L394.3 126.17 L394.7 126.32 L395.0 126.64 L395.4 126.92 L395.7 126.33 L396.1 126.41 L396.4 126.97 L396.8 126.17 L397.1 126.61 L397.5 126.96 L397.8 126.42 L398.2 126.83 L398.5 126.47 L398.9 125.87 L399.2 126.29 L399.6 126.42 L399.9 126.37 L400.3 126.51 L400.6 126.65 L401.0 126.61 L401.3 126.56 L401.7 126.31 L402.0 126.39 L402.4 126.32 L402.7 126.23 L403.1 127.02 L403.4 125.70 L403.8 126.55 L404.1 125.79 L404.5 126.21 L404.8 126.76 L405.2 126.32 L405.5 126.99 L405.9 126.04 L406.2 126.30 L406.6 126.15 L406.9 126.40 L407.3 126.26 L407.6 126.23 L408.0 126.40 L408.3 126.80 L408.7 126.40 L409.0 126.35 L409.4 126.18 L409.7 125.99 L410.1 125.67 L410.4 125.80 L410.8 126.20 L411.1 125.36 L411.5 126.30 L411.8 125.73 L412.2 125.30 L412.5 125.11 L412.9 125.05 L413.2 124.26 L413.6 123.86 L413.6 124.47 L413.9 125.09 L414.3 124.34 L414.6 125.79 L415.0 125.52 L415.3 125.52 L415.7 126.04 L416.0 126.78 L416.4 126.34 L416.7 126.34 L417.1 127.15 L417.4 126.83 L417.8 126.63 L418.1 127.42 L418.5 126.92 L418.8 126.45 L419.2 126.33 L419.5 126.61 L419.9 126.87 L420.2 127.19 L420.6 127.17 L420.9 126.89 L421.3 126.38 L421.6 127.24 L422.0 126.91 L422.3 126.44 L422.7 126.39 L423.0 126.99 L423.4 127.05 L423.7 127.24 L424.1 126.43 L424.4 127.70 L424.8 126.21 L425.1 126.93 L425.5 127.49 L425.8 127.38 L426.2 126.58 L426.5 127.22 L426.9 127.48 L427.2 127.29 L427.6 126.60 L427.9 127.68 L428.3 126.35 L428.6 127.03 L429.0 126.59 L429.3 126.86 L429.7 126.90 L430.0 127.24 L430.4 126.54 L430.7 127.14 L431.1 127.59 L431.4 127.10 L431.8 127.30 L432.1 127.26 L432.5 126.79 L432.8 126.95 L433.2 127.12 L433.5 127.31 L433.9 127.94 L434.2 127.79 L434.6 126.95 L434.9 126.97 L435.3 126.74 L435.6 126.22 L436.0 127.69 L436.3 127.39 L436.7 126.39 L437.0 127.19 L437.4 128.15 L437.7 127.40 L438.1 127.41 L438.4 127.30 L438.8 126.92 L439.1 126.76 L439.5 126.91 L439.8 127.31 L440.2 127.16 L440.5 127.55 L440.9 127.99 L441.2 127.52 L441.6 127.63 L441.9 127.16 L442.3 126.78 L442.6 128.19 L443.0 127.62 L443.3 127.81 L443.7 127.19 L444.0 126.66 L444.4 127.89 L444.7 126.49 L445.1 127.30 L445.4 127.16 L445.8 127.48 L446.1 127.72 L446.5 127.73 L446.8 126.56 L447.2 127.82 L447.5 126.65 L447.9 127.70 L448.2 127.26 L448.6 126.98 L448.9 127.24 L449.3 126.92 L449.6 127.46 L450.0 127.85 L450.3 127.81 L450.7 127.51 L451.0 127.94 L451.4 127.71 L451.7 128.39 L452.1 127.73 L452.4 127.28 L452.8 127.42 L453.1 127.23 L453.5 127.43 L453.8 127.50 L454.2 127.84 L454.5 127.89 L454.9 127.60 L455.2 127.76 L455.6 127.29 L455.9 127.38 L456.3 126.60 L456.6 127.30 L457.0 127.42 L457.3 128.67 L457.7 127.08 L458.0 127.67 L458.4 127.51 L458.7 127.01 L459.1 127.77 L459.4 127.68 L459.8 127.08 L460.1 126.73 L460.5 127.65 L460.8 127.09 L461.2 127.95 L461.5 127.56 L461.9 127.89 L462.2 127.54 L462.6 128.29 L462.9 127.94 L463.3 128.28 L463.6 127.71 L464.0 127.24 L464.3 127.08 L464.7 127.45 L465.0 127.77 L465.4 127.39 L465.7 128.65 L466.1 127.62 L466.4 127.83 L466.8 127.68 L467.1 127.13 L467.5 128.07 L467.8 127.90 L468.2 127.99 L468.5 127.25 L468.9 127.64 L469.2 127.61 L469.6 128.10 L469.9 127.06 L470.3 127.90 L470.6 128.14 L471.0 127.45 L471.3 127.29 L471.7 128.16 L472.0 127.71 L472.4 128.07 L472.7 127.92 L473.1 128.04 L473.4 127.53 L473.8 126.74 L474.1 127.84 L474.5 127.32 L474.8 127.85 L475.2 127.38 L475.5 128.26 L475.9 127.49 L476.2 127.92 L476.6 128.03 L476.9 127.54 L477.3 127.71 L477.6 127.56 L478.0 127.19 L478.3 128.17 L478.7 127.18 L479.0 126.91 L479.4 127.34 L479.7 127.60 L480.1 127.57 L480.4 127.39 L480.8 127.34 L481.1 126.64 L481.5 127.77 L481.8 128.22 L482.2 127.20 L482.5 126.76 L482.9 127.80 L483.2 127.41 L483.6 125.83 L483.9 127.15 L484.3 126.85 L484.6 126.95 L485.0 128.24 L485.3 127.80 L485.7 127.31 L486.0 127.35 L486.4 127.97 L486.7 126.84 L487.1 127.54 L487.4 126.88 L487.8 127.34 L488.1 126.86 L488.5 126.12 L488.8 126.44 L489.2 125.93 L489.3 126.45 L489.5 125.65 L489.9 126.30 L490.2 126.40 L490.6 127.51 L490.9 126.92 L491.3 127.38 L491.6 128.04 L492.0 127.80 L492.3 127.76 L492.7 127.80 L493.0 127.87 L493.4 128.03 L493.7 127.66 L494.1 126.99 L494.4 128.39 L494.8 127.42 L495.1 128.64 L495.5 128.02 L495.8 129.23 L496.2 128.42 L496.5 128.12 L496.9 128.35 L497.2 127.40 L497.6 128.07 L497.9 127.86 L498.3 128.03 L498.6 127.19 L499.0 127.14 L499.3 128.36 L499.7 128.10 L500.0 127.91 L500.4 128.06 L500.7 127.85 L501.1 127.93 L501.4 128.43 L501.8 128.06 L502.1 128.46 L502.5 127.89 L502.8 127.44 L503.2 127.93 L503.5 128.16 L503.9 127.77 L504.2 128.08 L504.6 128.05 L504.9 128.66 L505.3 128.63 L505.6 128.75 L506.0 127.99 L506.3 128.46 L506.7 128.87 L507.0 128.42 L507.4 128.33 L507.7 128.06 L508.1 128.73 L508.4 128.47 L508.8 128.83 L509.1 128.36 L509.5 129.30 L509.8 128.44 L510.2 127.96 L510.5 128.56 L510.9 128.69 L511.2 129.04 L511.6 128.32 L511.9 128.31 L512.3 128.43 L512.6 128.40 L513.0 127.69 L513.3 128.88 L513.7 129.12 L514.0 128.30 L514.4 128.22 L514.7 128.58 L515.1 128.31 L515.4 128.99 L515.8 128.42 L516.1 128.95 L516.5 128.19 L516.8 128.13 L517.2 128.09 L517.5 128.16 L517.9 128.94 L518.2 129.12 L518.6 128.85 L518.9 128.89 L519.3 127.90 L519.6 129.29 L520.0 128.33 L520.3 129.39 L520.7 129.86 L521.0 128.90 L521.4 129.15 L521.7 129.16 L522.1 128.37 L522.4 128.46 L522.8 128.66 L523.1 129.02 L523.5 129.32 L523.8 129.03 L524.2 129.45 L524.5 128.80 L524.9 128.44 L525.2 129.05 L525.6 129.02 L525.9 128.47 L526.3 129.50 L526.6 128.69 L527.0 128.80 L527.3 129.20 L527.7 128.68 L528.0 129.39 L528.4 129.31 L528.7 129.35 L529.1 129.18 L529.4 129.00 L529.8 128.89 L530.1 129.35 L530.5 129.80 L530.8 129.57 L531.2 129.41 L531.5 129.69 L531.9 129.84 L532.2 128.78 L532.6 129.27 L532.9 129.77 L533.3 128.98 L533.6 129.04 L534.0 129.48 L534.3 129.12 L534.7 129.69 L535.0 129.05 L535.4 129.41 L535.7 130.18 L536.1 129.60 L536.4 128.56 L536.8 128.67 L537.1 128.67 L537.5 129.04 L537.8 128.47 L538.2 129.26 L538.5 129.72 L538.9 129.64 L539.2 128.67 L539.6 128.85 L539.9 128.82 L540.3 128.59 L540.6 129.61 L541.0 128.61 L541.3 128.42 L541.7 129.01 L542.0 128.98 L542.4 129.45 L542.7 129.44 L543.1 128.71 L543.4 127.91 L543.8 129.03 L544.1 129.06 L544.5 129.45 L544.8 128.05 L545.2 128.20 L545.5 129.29 L545.9 129.30 L546.2 129.15 L546.6 128.58 L546.9 129.10 L547.3 128.32 L547.6 128.02 L548.0 128.48 L548.3 128.52 L548.7 128.78 L549.0 128.87 L549.4 127.66 L549.7 128.47 L550.1 128.52 L550.4 127.80 L550.8 128.19 L551.1 128.30 L551.5 128.43 L551.8 127.85 L552.2 127.89 L552.5 127.59 L552.9 128.05 L553.2 127.60 L553.6 127.27 L553.9 127.53 L554.3 126.97 L554.6 126.45 L554.7 127.41 L555.0 127.43 L555.3 127.45 L555.7 127.13 L556.0 128.28 L556.4 127.81 L556.7 127.47 L557.1 128.32 L557.4 129.22 L557.8 128.39 L558.1 128.89 L558.5 129.27 L558.8 128.84 L559.2 128.69 L559.5 128.87 L559.9 129.14 L560.2 128.73 L560.6 129.12 L560.9 129.24 L561.3 128.89 L561.6 129.36 L562.0 129.33 L562.3 129.00 L562.7 129.08 L563.0 129.23 L563.4 129.15 L563.7 129.15 L564.1 128.85 L564.4 129.33 L564.8 129.61 L565.1 129.60 L565.5 129.03 L565.8 129.62 L566.2 129.66 L566.5 129.06 L566.9 129.67 L567.2 129.41 L567.6 129.36 L567.9 129.63 L568.3 129.47 L568.6 128.68 L569.0 129.69 L569.3 129.18 L569.7 129.61 L570.0 129.94 L570.4 129.57 L570.7 129.48 L571.1 129.71 L571.4 129.85 L571.8 129.31 L572.1 129.39 L572.5 129.84 L572.8 130.28 L573.2 129.63 L573.5 129.98 L573.9 129.33 L574.2 129.62 L574.6 129.65 L574.9 129.10 L575.3 129.60 L575.6 129.53 L576.0 128.58 L576.3 129.56 L576.7 129.71 L577.0 129.68 L577.4 129.71 L577.7 129.13 L578.1 129.27 L578.4 129.49 L578.8 129.21 L579.1 129.37 L579.5 130.04 L579.8 129.19 L580.2 129.40 L580.5 130.27 L580.9 129.48 L581.2 129.13 L581.6 129.63 L581.9 129.60 L582.3 129.58 L582.6 128.86 L583.0 129.63 L583.3 129.67 L583.7 130.33 L584.0 129.78 L584.4 129.34 L584.7 129.63 L585.1 129.77 L585.4 129.45 L585.8 129.49 L586.1 130.04 L586.5 129.69 L586.8 129.70 L587.2 129.11 L587.5 129.66 L587.9 128.74 L588.2 129.98 L588.6 129.30 L588.9 129.74 L589.3 130.04 L589.6 129.05 L590.0 129.94 L590.3 129.57 L590.7 129.93 L591.0 129.33 L591.4 129.19 L591.7 129.98 L592.1 129.63 L592.4 129.48 L592.8 129.00 L593.1 129.97 L593.5 129.32 L593.8 129.36 L594.2 129.17 L594.5 129.44 L594.9 129.67 L595.2 129.40 L595.6 129.39 L595.9 129.20 L596.3 130.00 L596.6 130.05 L597.0 129.29 L597.3 129.05 L597.7 129.50 L598.0 128.75 L598.4 129.48 L598.7 129.49 L599.1 129.44 L599.4 130.00 L599.8 130.09 L600.1 129.54 L600.5 129.22 L600.8 129.76 L601.2 129.80 L601.5 128.87 L601.9 129.05 L602.2 129.23 L602.6 128.68 L602.9 128.89 L603.3 129.97 L603.6 128.82 L604.0 129.65 L604.3 128.99 L604.7 129.70 L605.0 129.43 L605.4 129.65 L605.7 128.75 L606.1 129.41 L606.4 129.06 L606.8 129.58 L607.1 129.56 L607.5 129.34 L607.8 129.22 L608.2 129.26 L608.5 129.36 L608.9 129.06 L609.2 129.08 L609.6 129.00 L609.9 128.83 L610.3 129.65 L610.6 128.72 L611.0 129.74 L611.3 129.51 L611.7 128.55 L612.0 128.50 L612.4 129.22 L612.7 128.79 L613.1 129.26 L613.4 129.58 L613.8 129.34 L614.1 129.11 L614.5 129.12 L614.8 129.76 L615.2 129.04 L615.5 129.86 L615.9 129.98 L616.2 129.03 L616.6 129.29 L616.9 129.84 L617.3 128.89 L617.6 129.33 L618.0 129.57 L618.3 128.75 L618.7 129.30 L619.0 129.20 L619.4 128.94 L619.7 129.75 L620.1 129.09 L620.4 130.03 L620.8 129.41 L621.1 128.85 L621.5 129.23 L621.8 128.82 L622.2 129.44 L622.5 129.37 L622.9 128.64 L623.2 128.94 L623.6 129.29 L623.9 129.12 L624.3 128.71 L624.6 129.52 L625.0 129.62 L625.3 128.50 L625.7 129.65 L626.0 128.27 L626.4 129.01 L626.7 128.80 L627.1 128.84 L627.4 129.12 L627.8 128.59 L628.1 129.00 L628.5 129.69 L628.8 129.21 L629.2 129.61 L629.5 129.36 L629.9 128.38 L630.2 129.71 L630.6 129.34 L630.9 129.26 L631.3 128.85 L631.6 128.79 L632.0 128.58 L632.3 128.93 L632.7 129.03 L633.0 128.92 L633.4 128.92 L633.7 128.21 L634.1 128.67 L634.4 128.65 L634.8 129.07 L635.1 128.78 L635.5 128.77 L635.8 128.98 L636.2 128.75 L636.5 128.82 L636.9 129.36 L637.2 128.86 L637.6 128.57 L637.9 129.15 L638.3 129.22 L638.6 129.15 L639.0 128.39 L639.3 129.27 L639.7 128.91 L640.0 128.94 L640.4 128.92 L640.7 129.06 L641.1 129.07 L641.4 129.45 L641.8 128.97 L642.1 128.84 L642.5 129.12 L642.8 128.82 L643.2 129.28 L643.5 128.91 L643.9 129.14 L644.2 128.65 L644.6 129.23 L644.9 129.08 L645.3 128.51 L645.6 128.68 L646.0 128.86" fill="none" stroke="#3f9a6c" stroke-width="1.5" stroke-linejoin="round"/><path d="M98.6 87.22 L98.9 86.91 L99.3 87.57 L99.6 87.98 L100.0 88.42 L100.3 87.81 L100.7 87.42 L101.0 87.29 L101.4 88.22 L101.7 88.76 L102.1 87.95 L102.4 87.05 L102.8 87.23 L103.1 88.77 L103.5 87.94 L103.8 86.79 L104.2 87.79 L104.5 87.15 L104.9 87.48 L105.2 87.57 L105.6 87.44 L105.9 88.21 L106.3 87.85 L106.6 87.54 L107.0 88.15 L107.3 88.41 L107.7 86.94 L108.0 87.78 L108.4 87.35 L108.7 87.85 L109.1 87.19 L109.4 87.98 L109.8 87.95 L110.1 87.80 L110.5 87.37 L110.8 87.77 L111.2 87.36 L111.5 87.21 L111.9 88.16 L112.2 87.37 L112.6 88.75 L112.9 88.48 L113.3 86.86 L113.6 88.24 L114.0 87.42 L114.3 88.11 L114.7 88.12 L115.0 86.91 L115.4 87.98 L115.7 87.97 L116.1 88.71 L116.4 87.43 L116.8 88.59 L117.1 87.50 L117.5 87.97 L117.8 87.67 L118.2 89.05 L118.5 88.53 L118.9 89.66 L119.2 88.60 L119.6 88.73 L119.9 88.73 L120.3 87.87 L120.6 88.20 L121.0 89.06 L121.3 88.03 L121.7 88.39 L122.0 88.27 L122.4 88.65 L122.7 88.08 L123.1 88.22 L123.4 88.46 L123.8 88.39 L124.1 87.81 L124.5 88.88 L124.8 87.57 L125.2 87.64 L125.5 87.60 L125.9 88.96 L126.2 88.17 L126.6 87.81 L126.9 87.71 L127.3 88.62 L127.6 87.71 L128.0 87.55 L128.3 88.66 L128.7 87.55 L129.0 88.05 L129.4 88.21 L129.7 87.93 L130.1 88.14 L130.4 88.95 L130.8 87.81 L131.1 87.34 L131.5 86.97 L131.8 87.92 L132.2 87.81 L132.5 88.16 L132.9 87.70 L133.2 87.66 L133.6 87.49 L133.9 87.59 L134.3 87.97 L134.6 87.63 L135.0 87.89 L135.3 88.95 L135.7 88.07 L136.0 86.81 L136.4 88.77 L136.7 87.92 L137.1 87.12 L137.4 88.20 L137.8 87.65 L138.1 87.24 L138.5 87.21 L138.8 86.97 L139.2 87.57 L139.5 88.15 L139.9 87.29 L140.2 87.72 L140.6 88.57 L140.9 86.69 L141.3 87.55 L141.6 87.18 L142.0 86.71 L142.3 86.70 L142.7 87.29 L143.0 87.53 L143.4 86.93 L143.7 87.25 L144.1 87.63 L144.4 87.35 L144.8 87.67 L145.1 87.40 L145.5 87.39 L145.8 88.17 L146.2 87.43 L146.5 87.10 L146.9 87.43 L147.2 86.43 L147.6 86.75 L147.9 87.41 L148.3 87.28 L148.6 87.81 L149.0 86.86 L149.3 85.96 L149.7 87.98 L150.0 87.44 L150.4 86.12 L150.7 87.56 L151.1 86.73 L151.4 85.59 L151.8 86.39 L152.1 86.31 L152.5 87.53 L152.8 86.06 L153.2 86.35 L153.5 86.30 L153.9 86.21 L154.2 85.85 L154.6 86.49 L154.9 86.97 L155.3 86.66 L155.6 85.70 L156.0 85.53 L156.3 86.26 L156.7 85.72 L157.0 85.73 L157.4 85.07 L157.7 87.21 L158.1 86.56 L158.4 85.39 L158.8 86.48 L159.1 86.70 L159.5 84.43 L159.8 85.50 L160.2 85.56 L160.5 86.15 L160.9 85.65 L161.2 85.55 L161.6 85.61 L161.9 86.73 L162.3 86.87 L162.6 85.23 L163.0 84.95 L163.3 87.09 L163.7 84.85 L164.0 85.06 L164.4 85.39 L164.7 85.62 L165.1 85.91 L165.4 85.49 L165.8 84.70 L166.1 85.49 L166.5 85.30 L166.8 86.24 L167.2 85.07 L167.5 84.24 L167.9 84.38 L168.2 85.84 L168.6 84.61 L168.9 83.64 L169.3 84.52 L169.6 84.83 L170.0 85.51 L170.3 84.15 L170.7 85.12 L171.0 85.17 L171.4 84.23 L171.7 84.50 L172.1 85.64 L172.4 85.58 L172.8 85.02 L173.1 84.67 L173.5 85.12 L173.8 84.32 L174.2 84.31 L174.5 83.82 L174.9 84.30 L175.2 84.21 L175.6 85.89 L175.9 84.07 L176.3 84.90 L176.6 84.88 L177.0 83.93 L177.3 84.69 L177.7 82.63 L178.0 83.95 L178.4 84.35 L178.7 82.35 L179.1 83.04 L179.4 84.32 L179.8 83.49 L180.1 82.93 L180.5 83.32 L180.8 83.17 L181.2 83.88 L181.5 83.66 L181.9 83.17 L182.2 82.89 L182.6 83.21 L182.9 83.99 L183.3 83.35 L183.6 83.48 L184.0 82.95 L184.3 82.22 L184.7 82.52 L185.0 83.28 L185.4 82.91 L185.7 82.25 L186.1 81.77 L186.4 82.76 L186.8 82.44 L187.1 82.39 L187.5 82.35 L187.8 82.67 L188.2 82.62 L188.5 82.97 L188.9 82.90 L189.2 83.10 L189.6 82.73 L189.9 82.00 L190.3 82.13 L190.6 82.42 L191.0 81.90 L191.3 82.37 L191.7 82.70 L192.0 81.49 L192.4 80.87 L192.7 82.61 L193.1 81.87 L193.4 82.25 L193.8 80.98 L194.1 82.78 L194.5 82.15 L194.8 81.59 L195.2 81.42 L195.5 81.66 L195.9 81.46 L196.2 81.35 L196.6 80.81 L196.9 82.20 L197.3 81.38 L197.6 81.41 L198.0 81.39 L198.3 79.88 L198.7 81.57 L199.0 81.02 L199.4 81.01 L199.7 81.18 L200.1 80.52 L200.4 81.57 L200.8 80.61 L201.1 80.45 L201.5 80.44 L201.8 81.01 L202.2 81.33 L202.5 80.48 L202.9 79.90 L203.2 81.40 L203.6 80.09 L203.9 81.41 L204.3 80.62 L204.6 80.19 L205.0 80.19 L205.3 80.81 L205.7 81.03 L206.0 80.34 L206.4 80.99 L206.7 81.64 L207.1 80.22 L207.4 79.62 L207.8 79.64 L208.1 79.39 L208.5 79.80 L208.8 79.71 L209.2 79.31 L209.5 80.38 L209.9 78.45 L210.2 79.19 L210.6 81.15 L210.9 80.52 L211.3 80.17 L211.6 80.08 L212.0 80.83 L212.3 80.05 L212.7 79.73 L213.0 78.90 L213.4 79.55 L213.7 79.12 L214.1 79.09 L214.4 79.04 L214.8 79.40 L215.1 79.19 L215.5 79.86 L215.8 78.50 L216.2 79.15 L216.5 80.32 L216.9 79.19 L217.2 79.84 L217.6 79.75 L217.9 79.82 L218.3 79.42 L218.6 78.11 L219.0 78.73 L219.3 78.61 L219.7 77.86 L220.0 78.46 L220.4 77.94 L220.7 77.64 L221.1 78.71 L221.4 78.51 L221.8 78.06 L222.1 77.85 L222.5 78.03 L222.8 78.06 L223.2 77.99 L223.5 78.13 L223.9 77.83 L224.2 78.24 L224.6 78.24 L224.9 78.04 L225.3 77.32 L225.6 77.23 L226.0 77.72 L226.3 77.18 L226.7 77.08 L227.0 75.44 L227.4 75.11 L227.7 76.64 L228.1 76.19 L228.4 76.16 L228.8 74.74 L229.1 72.85 L229.5 70.24 L229.8 65.55 L230.2 62.48 L230.5 59.83 L230.5 60.57 L230.9 63.63 L231.2 68.48 L231.6 72.61 L231.9 74.28 L232.3 75.98 L232.6 76.83 L233.0 77.93 L233.3 79.78 L233.7 79.05 L234.0 80.37 L234.4 80.40 L234.7 80.55 L235.1 80.77 L235.4 79.83 L235.8 80.80 L236.1 81.65 L236.5 80.40 L236.8 80.89 L237.2 80.60 L237.5 81.30 L237.9 80.55 L238.2 82.25 L238.6 81.14 L238.9 80.52 L239.3 82.59 L239.6 82.18 L240.0 81.98 L240.3 82.06 L240.7 81.60 L241.0 81.75 L241.4 82.39 L241.7 82.57 L242.1 82.65 L242.4 82.28 L242.8 81.94 L243.1 82.17 L243.5 83.02 L243.8 83.28 L244.2 82.28 L244.5 82.26 L244.9 83.36 L245.2 83.11 L245.6 83.16 L245.9 82.02 L246.3 82.64 L246.6 82.62 L247.0 83.12 L247.3 82.05 L247.7 83.88 L248.0 83.36 L248.4 83.51 L248.7 82.60 L249.1 83.36 L249.4 84.23 L249.8 82.55 L250.1 83.74 L250.5 84.04 L250.8 83.27 L251.2 84.23 L251.5 83.60 L251.9 84.57 L252.2 84.20 L252.6 84.07 L252.9 85.17 L253.3 84.52 L253.6 84.85 L254.0 83.43 L254.3 83.79 L254.7 84.71 L255.0 84.80 L255.4 84.28 L255.7 84.81 L256.1 83.79 L256.4 84.58 L256.8 83.84 L257.1 84.75 L257.5 84.32 L257.8 84.27 L258.2 84.72 L258.5 85.78 L258.9 84.20 L259.2 84.49 L259.6 85.48 L259.9 84.68 L260.3 85.97 L260.6 85.14 L261.0 85.11 L261.3 85.31 L261.7 86.14 L262.0 85.57 L262.4 85.54 L262.7 85.44 L263.1 84.47 L263.4 84.89 L263.8 86.26 L264.1 85.94 L264.5 85.81 L264.8 85.93 L265.2 85.32 L265.5 85.85 L265.9 85.22 L266.2 85.98 L266.6 85.42 L266.9 85.74 L267.3 86.15 L267.6 85.77 L268.0 86.34 L268.3 86.29 L268.7 86.28 L269.0 86.85 L269.4 85.38 L269.7 85.36 L270.1 86.60 L270.4 86.82 L270.8 87.44 L271.1 86.81 L271.5 86.90 L271.8 86.00 L272.2 86.84 L272.5 86.77 L272.9 85.83 L273.2 85.89 L273.6 86.27 L273.9 86.46 L274.3 84.73 L274.6 86.29 L275.0 86.34 L275.3 86.10 L275.7 86.31 L276.0 86.38 L276.4 85.59 L276.7 86.30 L277.1 85.93 L277.4 85.54 L277.8 86.11 L278.1 86.73 L278.5 85.20 L278.8 85.07 L279.2 85.05 L279.5 86.87 L279.9 85.71 L280.2 85.78 L280.6 85.38 L280.9 85.28 L281.3 84.70 L281.6 85.78 L282.0 85.79 L282.3 84.65 L282.7 85.09 L283.0 85.21 L283.4 85.54 L283.7 85.64 L284.1 86.05 L284.4 86.14 L284.8 85.96 L285.1 86.06 L285.5 84.81 L285.8 85.08 L286.2 85.87 L286.5 85.43 L286.9 85.27 L287.2 84.27 L287.6 84.30 L287.9 85.52 L288.3 85.30 L288.6 84.96 L289.0 84.87 L289.3 84.21 L289.7 85.18 L290.0 85.46 L290.4 85.71 L290.7 84.92 L291.1 84.76 L291.4 84.30 L291.8 85.35 L292.1 85.53 L292.5 84.45 L292.8 84.87 L293.2 84.78 L293.5 84.47 L293.9 83.57 L294.2 84.53 L294.6 84.95 L294.9 83.96 L295.3 84.17 L295.6 82.95 L296.0 84.90 L296.3 84.35 L296.7 83.88 L297.0 83.40 L297.4 82.83 L297.7 82.67 L298.1 82.29 L298.3 82.29 L298.4 82.42 L298.8 82.79 L299.1 83.89 L299.5 83.02 L299.8 84.19 L300.2 84.12" fill="none" stroke="#9479c4" stroke-width="1.7" stroke-linejoin="round"/><path d="M299.8 84.19 L300.2 84.12 L300.5 84.15 L300.9 83.82 L301.2 85.29 L301.6 84.72 L301.9 84.93 L302.3 85.56 L302.6 84.96 L303.0 85.51 L303.3 85.53 L303.7 85.97 L304.0 86.11 L304.4 85.35 L304.7 86.19 L305.1 85.82 L305.4 85.99 L305.8 85.91 L306.1 86.40 L306.5 85.62 L306.8 86.31 L307.2 86.75 L307.5 86.20 L307.9 87.23 L308.2 86.14 L308.6 86.59 L308.9 86.36 L309.3 86.37 L309.6 86.22 L310.0 86.52 L310.3 86.78 L310.7 86.53 L311.0 87.28 L311.4 87.60 L311.7 86.41 L312.1 87.43 L312.4 87.23 L312.8 87.31 L313.1 88.26 L313.5 87.81 L313.8 87.51 L314.2 87.51 L314.5 86.64 L314.9 87.86 L315.2 87.32 L315.6 87.74 L315.9 87.77 L316.3 88.16 L316.6 88.64 L317.0 88.28 L317.3 88.45 L317.7 87.92 L318.0 88.24 L318.4 88.42 L318.7 87.63 L319.1 89.02 L319.4 88.02 L319.8 87.86 L320.1 89.00 L320.5 89.18 L320.8 88.11 L321.2 88.14 L321.5 89.54 L321.9 88.41 L322.2 87.62 L322.6 88.13 L322.9 89.10 L323.3 88.60 L323.6 88.63 L324.0 88.80 L324.3 88.59 L324.7 88.22 L325.0 87.76 L325.4 88.50 L325.7 87.93 L326.1 88.31 L326.4 88.96 L326.8 88.52 L327.1 88.34 L327.5 88.34 L327.8 88.57 L328.2 88.64 L328.5 87.84 L328.9 88.37 L329.2 88.90 L329.6 88.56 L329.9 88.02 L330.3 88.04 L330.6 87.54 L331.0 87.97 L331.3 88.79 L331.7 88.19 L332.0 87.89 L332.4 87.98 L332.7 88.12 L333.1 88.11 L333.4 88.00 L333.8 87.84 L334.1 88.32 L334.5 88.62 L334.8 87.86 L335.2 87.85 L335.5 88.44 L335.9 87.50 L336.2 87.79 L336.6 87.84 L336.9 88.02 L337.3 87.85 L337.6 87.62 L338.0 88.02 L338.3 87.48 L338.7 87.27 L339.0 87.15 L339.4 88.10 L339.7 87.22 L340.1 87.97 L340.4 88.02 L340.8 88.01 L341.1 87.61 L341.5 87.43 L341.8 87.59 L342.2 87.30 L342.5 87.00 L342.9 87.83 L343.2 87.02 L343.6 87.91 L343.9 87.40 L344.3 87.01 L344.6 87.26 L345.0 87.48 L345.3 86.51 L345.7 86.62 L346.0 86.52 L346.4 86.89 L346.7 86.91 L347.1 86.70 L347.4 86.37 L347.8 86.36 L348.1 86.89 L348.5 86.80 L348.8 86.38 L349.2 85.80 L349.5 86.41 L349.9 86.22 L350.2 86.13 L350.6 86.58 L350.9 86.19 L351.3 85.49 L351.6 85.42 L352.0 86.17 L352.3 85.68 L352.7 85.85 L353.0 85.43 L353.4 85.06 L353.7 85.44 L354.1 85.82 L354.4 85.32 L354.8 84.74 L355.1 84.95 L355.5 84.81 L355.8 84.98 L356.2 85.20 L356.5 85.47 L356.9 84.81 L357.2 84.61 L357.6 84.81 L357.9 84.82 L358.3 84.69 L358.6 84.87 L359.0 84.88 L359.3 84.50 L359.7 85.12 L360.0 84.83 L360.4 84.64 L360.7 85.18 L361.1 84.86 L361.4 85.66 L361.8 85.24 L362.1 85.13 L362.5 84.86 L362.8 85.01 L363.2 85.47 L363.5 84.96 L363.9 85.49 L364.2 84.51 L364.6 85.34 L364.9 85.58 L365.3 85.43 L365.6 85.34 L366.0 85.72 L366.3 85.09 L366.7 85.07 L367.0 85.47 L367.4 85.88 L367.7 85.63 L368.1 85.44 L368.4 85.64 L368.8 85.71 L369.1 85.15 L369.5 84.62 L369.8 85.27 L370.2 85.13 L370.5 85.48 L370.9 85.28 L371.2 85.42 L371.6 85.90 L371.9 85.81 L372.3 85.79 L372.6 86.41 L373.0 85.69 L373.3 85.74 L373.7 86.34 L374.0 85.54 L374.4 85.38 L374.7 86.43 L375.1 86.12 L375.4 86.24 L375.8 86.27 L376.1 86.39 L376.5 85.93 L376.8 86.10 L377.2 85.76 L377.5 86.22 L377.9 86.28 L378.2 86.07 L378.6 86.48 L378.9 87.31 L379.3 85.90 L379.6 86.61 L380.0 86.68 L380.3 86.75 L380.7 86.12 L381.0 86.84 L381.4 86.68 L381.7 86.42 L382.1 86.36 L382.4 86.59 L382.8 86.85 L383.1 86.85 L383.5 87.36 L383.8 86.45 L384.2 86.81 L384.5 86.46 L384.9 86.90 L385.2 86.69 L385.6 86.45 L385.9 86.22 L386.3 86.43 L386.6 86.80 L387.0 87.25 L387.3 87.02 L387.7 86.35 L388.0 86.61 L388.4 86.81 L388.7 86.77 L389.1 86.85 L389.4 87.11 L389.8 86.93 L390.1 86.62 L390.5 86.20 L390.8 86.77 L391.2 86.32 L391.5 86.86 L391.9 87.05 L392.2 86.48 L392.6 86.91 L392.9 86.86 L393.3 87.65 L393.6 87.16 L394.0 86.36 L394.3 87.19 L394.7 87.19 L395.0 86.99 L395.4 86.95 L395.7 87.30 L396.1 87.34 L396.4 87.28 L396.8 86.79 L397.1 87.07 L397.5 86.62 L397.8 86.66 L398.2 87.01 L398.5 86.85 L398.9 87.09 L399.2 88.12 L399.6 87.44 L399.9 86.97 L400.3 86.54 L400.6 87.02 L401.0 86.82 L401.3 86.57 L401.7 87.61 L402.0 87.16 L402.4 87.45 L402.7 88.35 L403.1 87.34 L403.4 87.25 L403.8 87.31 L404.1 87.06 L404.5 86.84 L404.8 87.02 L405.2 87.47 L405.5 86.95 L405.9 86.54 L406.2 86.55 L406.6 86.60 L406.9 86.93 L407.3 87.07 L407.6 87.04 L408.0 87.27 L408.3 86.75 L408.7 87.09 L409.0 86.88 L409.4 86.99 L409.7 86.07 L410.1 87.13 L410.4 86.13 L410.8 86.25 L411.1 86.89 L411.5 86.45 L411.8 87.18 L412.2 86.59 L412.5 86.15 L412.9 86.53 L413.2 86.31 L413.6 86.97 L413.9 86.97 L414.3 86.68 L414.6 86.31 L415.0 86.51 L415.3 86.88 L415.7 86.26 L416.0 86.30 L416.4 86.90 L416.7 86.89 L417.1 86.59 L417.4 86.60 L417.8 86.05 L418.1 87.17 L418.5 86.75 L418.8 86.32 L419.2 86.46 L419.5 86.57 L419.9 87.51 L420.2 87.19 L420.6 86.51 L420.9 87.66 L421.3 87.51 L421.6 86.70 L422.0 86.17 L422.3 87.47 L422.7 86.95 L423.0 87.14 L423.4 87.04 L423.7 87.69 L424.1 87.80 L424.4 87.60 L424.8 87.29 L425.1 87.47 L425.5 87.62 L425.8 86.88 L426.2 87.90 L426.5 87.39 L426.9 87.62 L427.2 87.61 L427.6 87.91 L427.9 87.99 L428.3 88.43 L428.6 87.56 L429.0 87.40 L429.3 87.79 L429.7 87.55 L430.0 88.10 L430.4 87.52 L430.7 87.84 L431.1 88.12 L431.4 88.14 L431.8 87.85 L432.1 88.27 L432.5 88.22 L432.8 87.17 L433.2 87.89 L433.5 87.82 L433.9 87.65 L434.2 87.53 L434.6 87.76 L434.9 87.88 L435.3 87.83 L435.6 88.21 L436.0 88.08 L436.3 87.52 L436.7 87.45 L437.0 88.01 L437.4 87.46 L437.7 87.76 L438.1 87.87 L438.4 88.05 L438.8 87.87 L439.1 88.19 L439.5 87.52 L439.8 87.91 L440.2 87.44 L440.5 87.73 L440.9 87.70 L441.2 87.33 L441.6 86.74 L441.9 87.98 L442.3 87.77 L442.6 87.69 L443.0 87.39 L443.3 87.51 L443.7 87.78 L444.0 87.62 L444.4 88.02 L444.7 87.65 L445.1 87.32 L445.4 87.81 L445.8 87.37 L446.1 87.66 L446.5 86.95 L446.8 87.45 L447.2 87.77 L447.5 87.34 L447.9 87.55 L448.2 87.76 L448.6 87.57 L448.9 88.17 L449.3 87.45 L449.6 87.47 L450.0 87.47 L450.3 86.83 L450.7 86.98 L451.0 87.70 L451.4 87.39 L451.7 87.99 L452.1 87.47 L452.4 87.44 L452.8 87.85 L453.1 87.58 L453.5 88.04 L453.8 87.11 L454.2 87.62 L454.5 87.70 L454.9 87.66 L455.2 87.86 L455.6 87.81 L455.9 87.46 L456.3 87.25 L456.6 87.78 L457.0 87.45 L457.3 87.77 L457.7 87.90 L458.0 87.50 L458.4 87.11 L458.7 87.34 L459.1 87.74 L459.4 87.41 L459.8 87.93 L460.1 87.56 L460.5 87.62 L460.8 87.38 L461.2 87.59 L461.5 88.04 L461.9 87.56 L462.2 87.59 L462.6 87.46 L462.9 88.03 L463.3 87.25 L463.6 87.58 L464.0 88.16 L464.3 88.36 L464.7 87.81 L465.0 88.25 L465.4 87.25 L465.7 88.23 L466.1 88.10 L466.4 87.59 L466.8 87.42 L467.1 87.89 L467.5 88.19 L467.8 88.25 L468.2 88.19 L468.5 88.45 L468.9 88.45 L469.2 87.75 L469.6 88.12 L469.9 88.10 L470.3 88.67 L470.6 88.16 L471.0 88.71 L471.3 88.42 L471.7 89.24 L472.0 88.42 L472.4 88.47 L472.7 88.46 L473.1 88.57 L473.4 89.40 L473.8 88.40 L474.1 88.30 L474.5 88.56 L474.8 88.89 L475.2 88.33 L475.5 88.99 L475.9 89.00 L476.2 88.70 L476.6 88.70 L476.9 88.54 L477.3 88.71 L477.6 88.51 L478.0 89.21 L478.3 89.33 L478.7 88.64 L479.0 88.71 L479.4 88.05 L479.7 88.51 L480.1 88.80 L480.4 88.76 L480.8 88.69 L481.1 88.93 L481.5 88.65 L481.8 88.47 L482.2 89.15 L482.5 87.90 L482.9 88.15 L483.2 88.28 L483.6 88.27 L483.9 88.24 L484.3 88.42 L484.6 88.23 L485.0 88.44 L485.3 88.66 L485.7 88.44 L486.0 88.46 L486.4 88.08 L486.7 87.99 L487.1 88.27 L487.4 88.68 L487.8 88.47 L488.1 88.71 L488.5 88.66 L488.8 88.69 L489.2 88.00 L489.5 88.70 L489.9 88.52 L490.2 88.96 L490.6 88.43 L490.9 88.32 L491.3 88.15 L491.6 88.23 L492.0 87.59 L492.3 88.06 L492.7 88.12 L493.0 88.46 L493.4 87.87 L493.7 88.13 L494.1 88.71 L494.4 87.87 L494.8 88.33 L495.1 87.84 L495.5 87.98 L495.8 88.16 L496.2 88.29 L496.5 87.80 L496.9 87.60 L497.2 88.46 L497.6 87.99 L497.9 88.18 L498.3 88.21 L498.6 88.14 L499.0 87.77 L499.3 87.80 L499.7 87.29 L500.0 87.88 L500.4 87.64 L500.7 87.78 L501.1 88.42 L501.4 88.00 L501.8 87.76 L502.1 87.26 L502.5 87.96 L502.8 88.22 L503.2 87.40 L503.5 87.81 L503.9 87.47 L504.2 87.59 L504.6 87.50 L504.9 87.05 L505.3 87.42 L505.6 87.02 L506.0 88.04 L506.3 87.91 L506.7 87.55 L507.0 87.61 L507.4 87.52 L507.7 87.56 L508.1 87.54 L508.4 87.37 L508.8 87.39 L509.1 86.96 L509.5 87.07 L509.8 87.21 L510.2 87.52 L510.5 87.35 L510.9 88.17 L511.2 87.48 L511.6 87.45 L511.9 87.75 L512.3 87.99 L512.6 88.30 L513.0 88.03 L513.3 87.53 L513.7 87.70 L514.0 88.15 L514.4 87.91 L514.7 88.13 L515.1 87.86 L515.4 88.47 L515.8 88.45 L516.1 88.37 L516.5 88.07 L516.8 87.49 L517.2 87.61 L517.5 88.22 L517.9 88.36 L518.2 87.17 L518.6 88.04 L518.9 88.63 L519.3 88.59 L519.6 88.12 L520.0 88.54 L520.3 88.37 L520.7 88.31 L521.0 88.80 L521.4 88.84 L521.7 88.30 L522.1 88.19 L522.4 88.10 L522.8 88.09 L523.1 89.06 L523.5 89.28 L523.8 88.74 L524.2 89.06 L524.5 88.50 L524.9 88.74 L525.2 89.11 L525.6 88.93 L525.9 88.85 L526.3 88.32 L526.6 88.42 L527.0 88.81 L527.3 88.79 L527.7 88.99 L528.0 88.83 L528.4 89.00 L528.7 89.13 L529.1 89.31 L529.4 89.19 L529.8 89.01 L530.1 89.14 L530.5 89.57 L530.8 89.22 L531.2 88.99 L531.5 89.01 L531.9 89.48 L532.2 89.60 L532.6 89.79 L532.9 89.23 L533.3 89.77 L533.6 89.15 L534.0 89.16 L534.3 89.01 L534.7 89.34 L535.0 89.49 L535.4 89.09 L535.7 88.89 L536.1 88.50 L536.4 89.04 L536.8 88.84 L537.1 88.86 L537.5 88.67 L537.8 88.56 L538.2 88.67 L538.5 88.94 L538.9 89.08 L539.2 88.71 L539.6 88.79 L539.9 88.58 L540.3 88.57 L540.6 88.11 L541.0 88.84 L541.3 88.71 L541.7 88.97 L542.0 88.23 L542.4 88.45 L542.7 88.06 L543.1 88.42 L543.4 88.26 L543.8 88.50 L544.1 88.19 L544.5 88.42 L544.8 88.00 L545.2 88.33 L545.5 88.00 L545.9 87.92 L546.2 88.06 L546.6 88.12 L546.9 87.48 L547.3 87.41 L547.6 87.96 L548.0 87.84 L548.3 87.13 L548.7 87.21 L549.0 87.50 L549.4 87.83 L549.7 87.76 L550.1 87.99 L550.4 88.02 L550.8 88.39 L551.1 87.06 L551.5 87.50 L551.8 87.84 L552.2 87.02 L552.5 86.94 L552.9 87.57 L553.2 87.98 L553.6 88.14 L553.9 87.22 L554.3 87.51 L554.6 88.00 L555.0 87.96 L555.3 88.36 L555.7 88.40 L556.0 89.06 L556.4 88.55 L556.7 88.74 L557.1 88.81 L557.4 89.26 L557.8 88.62 L558.1 89.23 L558.5 88.95 L558.8 88.83 L559.2 89.82 L559.5 89.71 L559.9 90.11 L560.2 89.83 L560.6 90.07 L560.9 89.95 L561.3 90.08 L561.6 89.73 L562.0 90.43 L562.3 89.53 L562.7 90.39 L563.0 89.73 L563.4 90.07 L563.7 89.80 L564.1 89.89 L564.4 90.23 L564.8 89.75 L565.1 89.36 L565.5 89.74 L565.8 89.87 L566.2 88.79 L566.5 89.94 L566.9 89.96 L567.2 88.96 L567.6 89.50 L567.9 89.81 L568.3 89.11 L568.6 89.35 L569.0 89.36 L569.3 89.65 L569.7 89.82 L570.0 89.41 L570.4 89.43 L570.7 89.72 L571.1 89.58 L571.4 89.35 L571.8 89.84 L572.1 88.89 L572.5 89.42 L572.8 89.22 L573.2 89.19 L573.5 89.42 L573.9 89.36 L574.2 90.18 L574.6 89.55 L574.9 89.45 L575.3 89.89 L575.6 89.66 L576.0 88.67 L576.3 89.34 L576.7 89.55 L577.0 89.08 L577.4 89.38 L577.7 89.12 L578.1 89.40 L578.4 88.70 L578.8 88.58 L579.1 89.06 L579.5 89.32 L579.8 89.69 L580.2 89.13 L580.5 88.96 L580.9 89.53 L581.2 89.22 L581.6 89.82 L581.9 89.16 L582.3 88.51 L582.6 88.90 L583.0 88.84 L583.3 88.68 L583.7 88.89 L584.0 88.91 L584.4 89.05 L584.7 88.95 L585.1 89.27 L585.4 89.27 L585.8 89.18 L586.1 89.18 L586.5 88.45 L586.8 88.52 L587.2 88.79 L587.5 89.17 L587.9 88.57 L588.2 88.93 L588.6 89.15 L588.9 89.75 L589.3 89.14 L589.6 88.86 L590.0 89.42 L590.3 89.10 L590.7 88.92 L591.0 89.40 L591.4 88.69 L591.7 89.07 L592.1 89.03 L592.4 89.30 L592.8 88.59 L593.1 88.53 L593.5 88.83 L593.8 88.87 L594.2 88.97 L594.5 88.82 L594.9 89.09 L595.2 89.17 L595.6 89.01 L595.9 88.56 L596.3 89.31 L596.6 88.38 L597.0 88.83 L597.3 89.20 L597.7 88.67 L598.0 89.33 L598.4 89.54 L598.7 89.41 L599.1 89.01 L599.4 89.20 L599.8 88.67 L600.1 88.98 L600.5 88.99 L600.8 88.86 L601.2 88.88 L601.5 88.74 L601.9 88.13 L602.2 88.94 L602.6 88.91 L602.9 89.50 L603.3 89.03 L603.6 88.80 L604.0 89.07 L604.3 88.98 L604.7 88.75 L605.0 88.62 L605.4 88.23 L605.7 88.78 L606.1 89.30 L606.4 88.08 L606.8 88.39 L607.1 88.98 L607.5 88.77 L607.8 88.85 L608.2 88.05 L608.5 88.48 L608.9 88.86 L609.2 88.88 L609.6 88.77 L609.9 88.35 L610.3 88.84 L610.6 88.23 L611.0 88.31 L611.3 88.23 L611.7 89.13 L612.0 88.48 L612.4 88.63 L612.7 87.84 L613.1 88.98 L613.4 88.76 L613.8 88.01 L614.1 88.02 L614.5 89.16 L614.8 88.24 L615.2 89.21 L615.5 88.39 L615.9 87.68 L616.2 88.93 L616.6 88.71 L616.9 88.77 L617.3 88.35 L617.6 88.44 L618.0 88.85 L618.3 88.22 L618.7 87.81 L619.0 88.81 L619.4 88.27 L619.7 88.92 L620.1 88.30 L620.4 88.32 L620.8 88.37 L621.1 87.63 L621.5 88.86 L621.8 88.22 L622.2 88.36 L622.5 88.94 L622.9 88.46 L623.2 88.73 L623.6 88.52 L623.9 88.67 L624.3 88.49 L624.6 88.79 L625.0 88.31 L625.3 88.54 L625.7 88.12 L626.0 88.78 L626.4 87.59 L626.7 88.41 L627.1 88.47 L627.4 88.46 L627.8 88.33 L628.1 88.79 L628.5 89.06 L628.8 88.10 L629.2 87.64 L629.5 87.92 L629.9 88.01 L630.2 88.24 L630.6 88.26 L630.9 88.65 L631.3 88.12 L631.6 88.25 L632.0 88.29 L632.3 87.94 L632.7 88.13 L633.0 89.20 L633.4 88.20 L633.7 87.88 L634.1 87.45 L634.4 88.57 L634.8 88.09 L635.1 87.97 L635.5 89.04 L635.8 88.68 L636.2 87.58 L636.5 88.05 L636.9 88.51 L637.2 88.45 L637.6 87.76 L637.9 88.76 L638.3 88.78 L638.6 87.74 L639.0 87.51 L639.3 87.63 L639.7 88.34 L640.0 88.48 L640.4 88.16 L640.7 87.88 L641.1 88.05 L641.4 88.27 L641.8 87.65 L642.1 87.47 L642.5 88.03 L642.8 88.48 L643.2 88.11 L643.5 88.11 L643.9 87.79 L644.2 88.35 L644.6 87.42 L644.9 87.99 L645.3 87.80 L645.6 87.94 L646.0 87.67" fill="none" stroke="#9479c4" stroke-width="1.45" stroke-linejoin="round"/><rect x="204.2" y="61.3" width="9.2" height="9.2" fill="#14e614" stroke="#1d5a1d" stroke-width="1.1"/><rect x="275.9" y="66.7" width="9.2" height="9.2" fill="#14e614" stroke="#1d5a1d" stroke-width="1.1"/><rect x="293.4" y="60.4" width="9.2" height="9.2" fill="#14e614" stroke="#1d5a1d" stroke-width="1.1"/><rect x="332.6" y="75.0" width="9.2" height="9.2" fill="#14e614" stroke="#1d5a1d" stroke-width="1.1"/><rect x="439.6" y="71.2" width="9.2" height="9.2" fill="#14e614" stroke="#1d5a1d" stroke-width="1.1"/><rect x="506.1" y="67.9" width="9.2" height="9.2" fill="#14e614" stroke="#1d5a1d" stroke-width="1.1"/><path d="M245.80 60.50 L245.80 56.70 M245.80 60.50 L249.41 59.33 M245.80 60.50 L248.03 63.57 M245.80 60.50 L243.57 63.57 M245.80 60.50 L242.19 59.33 " stroke="#c63ed9" stroke-width="2.4" stroke-linecap="round" fill="none"/><path d="M315.70 67.60 L315.70 63.80 M315.70 67.60 L319.31 66.43 M315.70 67.60 L317.93 70.67 M315.70 67.60 L313.47 70.67 M315.70 67.60 L312.09 66.43 " stroke="#c63ed9" stroke-width="2.4" stroke-linecap="round" fill="none"/><path d="M348.60 67.70 L348.60 63.90 M348.60 67.70 L352.21 66.53 M348.60 67.70 L350.83 70.77 M348.60 67.70 L346.37 70.77 M348.60 67.70 L344.99 66.53 " stroke="#c63ed9" stroke-width="2.4" stroke-linecap="round" fill="none"/><path d="M410.40 73.50 L410.40 69.70 M410.40 73.50 L414.01 72.33 M410.40 73.50 L412.63 76.57 M410.40 73.50 L408.17 76.57 M410.40 73.50 L406.79 72.33 " stroke="#c63ed9" stroke-width="2.4" stroke-linecap="round" fill="none"/><path d="M489.40 71.50 L489.40 67.70 M489.40 71.50 L493.01 70.33 M489.40 71.50 L491.63 74.57 M489.40 71.50 L487.17 74.57 M489.40 71.50 L485.79 70.33 " stroke="#c63ed9" stroke-width="2.4" stroke-linecap="round" fill="none"/><line x1="88" y1="32.5" x2="651.8000000000001" y2="32.5" stroke="#1e1e1e" stroke-width="2.2"/><line x1="88" y1="444.8" x2="651.8000000000001" y2="444.8" stroke="#1e1e1e" stroke-width="2.2"/><line x1="91.7" y1="31.5" x2="91.7" y2="445.8" stroke="#1e1e1e" stroke-width="2.4"/><line x1="650.6" y1="31.5" x2="650.6" y2="445.8" stroke="#1e1e1e" stroke-width="2.4"/><line x1="87.7" y1="444.8" x2="91.7" y2="444.8" stroke="#1e1e1e" stroke-width="2"/><line x1="84.7" y1="415.3" x2="91.7" y2="415.3" stroke="#1e1e1e" stroke-width="2"/><line x1="87.7" y1="385.8" x2="91.7" y2="385.8" stroke="#1e1e1e" stroke-width="2"/><line x1="84.7" y1="356.4" x2="91.7" y2="356.4" stroke="#1e1e1e" stroke-width="2"/><line x1="87.7" y1="326.9" x2="91.7" y2="326.9" stroke="#1e1e1e" stroke-width="2"/><line x1="84.7" y1="297.4" x2="91.7" y2="297.4" stroke="#1e1e1e" stroke-width="2"/><line x1="87.7" y1="267.9" x2="91.7" y2="267.9" stroke="#1e1e1e" stroke-width="2"/><line x1="84.7" y1="238.5" x2="91.7" y2="238.5" stroke="#1e1e1e" stroke-width="2"/><line x1="87.7" y1="209.0" x2="91.7" y2="209.0" stroke="#1e1e1e" stroke-width="2"/><line x1="84.7" y1="179.5" x2="91.7" y2="179.5" stroke="#1e1e1e" stroke-width="2"/><line x1="87.7" y1="150.0" x2="91.7" y2="150.0" stroke="#1e1e1e" stroke-width="2"/><line x1="84.7" y1="120.6" x2="91.7" y2="120.6" stroke="#1e1e1e" stroke-width="2"/><line x1="87.7" y1="91.1" x2="91.7" y2="91.1" stroke="#1e1e1e" stroke-width="2"/><line x1="84.7" y1="61.6" x2="91.7" y2="61.6" stroke="#1e1e1e" stroke-width="2"/><line x1="87.7" y1="32.1" x2="91.7" y2="32.1" stroke="#1e1e1e" stroke-width="2"/><line x1="98.0" y1="444.8" x2="98.0" y2="451.8" stroke="#1e1e1e" stroke-width="2"/><line x1="137.0" y1="444.8" x2="137.0" y2="448.8" stroke="#1e1e1e" stroke-width="2"/><line x1="176.1" y1="444.8" x2="176.1" y2="451.8" stroke="#1e1e1e" stroke-width="2"/><line x1="215.1" y1="444.8" x2="215.1" y2="448.8" stroke="#1e1e1e" stroke-width="2"/><line x1="254.1" y1="444.8" x2="254.1" y2="451.8" stroke="#1e1e1e" stroke-width="2"/><line x1="293.1" y1="444.8" x2="293.1" y2="448.8" stroke="#1e1e1e" stroke-width="2"/><line x1="332.2" y1="444.8" x2="332.2" y2="451.8" stroke="#1e1e1e" stroke-width="2"/><line x1="371.2" y1="444.8" x2="371.2" y2="448.8" stroke="#1e1e1e" stroke-width="2"/><line x1="410.2" y1="444.8" x2="410.2" y2="451.8" stroke="#1e1e1e" stroke-width="2"/><line x1="449.3" y1="444.8" x2="449.3" y2="448.8" stroke="#1e1e1e" stroke-width="2"/><line x1="488.3" y1="444.8" x2="488.3" y2="451.8" stroke="#1e1e1e" stroke-width="2"/><line x1="527.3" y1="444.8" x2="527.3" y2="448.8" stroke="#1e1e1e" stroke-width="2"/><line x1="566.4" y1="444.8" x2="566.4" y2="451.8" stroke="#1e1e1e" stroke-width="2"/><line x1="605.4" y1="444.8" x2="605.4" y2="448.8" stroke="#1e1e1e" stroke-width="2"/><line x1="644.4" y1="444.8" x2="644.4" y2="451.8" stroke="#1e1e1e" stroke-width="2"/><path d="M412.20 17.30 L412.20 13.00 M412.20 17.30 L416.29 15.97 M412.20 17.30 L414.73 20.78 M412.20 17.30 L409.67 20.78 M412.20 17.30 L408.11 15.97 " stroke="#cc3fdc" stroke-width="2.3" stroke-linecap="round" fill="none"/></svg>
<div class="yl" style="top:406.3px">0</div><div class="yl" style="top:347.4px">1000</div><div class="yl" style="top:288.4px">2000</div><div class="yl" style="top:229.5px">3000</div><div class="yl" style="top:170.5px">4000</div><div class="yl" style="top:111.6px">5000</div><div class="yl" style="top:52.6px">6000</div><div class="xl" style="left:78.0px">10</div><div class="xl" style="left:156.1px">20</div><div class="xl" style="left:234.1px">30</div><div class="xl" style="left:312.2px">40</div><div class="xl" style="left:390.2px">50</div><div class="xl" style="left:468.3px">60</div><div class="xl" style="left:546.4px">70</div><div class="xl" style="left:624.4px">80</div><div class="cl" style="top:63.8px;left:577.4px;transform:scaleX(1.0)">MFAC3</div><div class="cl" style="top:104.6px;left:578.9px;transform:scaleX(1.0)">MFAC2</div><div class="cl" style="top:154.5px;left:582.3px;transform:scaleX(0.96)">MFAC1</div><div class="cl" style="top:209.2px;left:580.2px;transform:scaleX(1.0)">MFAC0</div><div class="cl" style="top:373.5px;left:600.5px;transform:scaleX(1.0)">AC</div>
<div class="leg" style="left:301.5px;"><span style="display:inline-block;width:9.4px;height:10px;background:#1ee61e;vertical-align:1px;margin-right:2.5px"></span>Fe<sub>2</sub>O<sub>3</sub></div>
<div class="leg" style="left:424.8px;top:9.3px;">MnO<sub>2</sub></div>
<div class="xt">2<span style="display:inline-block;transform:scaleX(1.12);transform-origin:left center;margin-left:2.3px;margin-right:-1.3px">T</span><span style="letter-spacing:0.55px">heta</span><span style="margin-left:0.6px"> </span>[deg.]</div>
<div class="yt">Intensity[counts]</div>
</div></body></html>
